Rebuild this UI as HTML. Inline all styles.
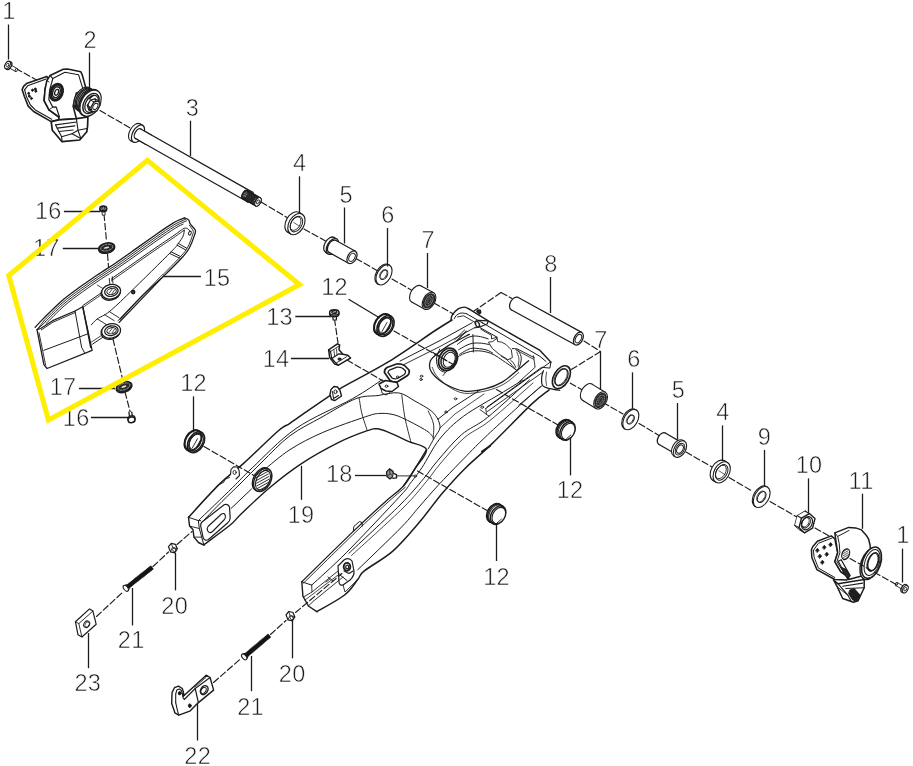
<!DOCTYPE html>
<html><head><meta charset="utf-8"><title>Swingarm parts diagram</title>
<style>
html,body{margin:0;padding:0;background:#fff;}
svg{display:block}
.lb{font-family:"Liberation Sans","Noto Sans CJK SC",sans-serif;font-size:23.5px;text-anchor:middle;fill:#1c1c1c;stroke:#fff;stroke-width:0.55px;paint-order:fill stroke;letter-spacing:0.3px}
</style></head><body>
<svg width="913" height="766" viewBox="0 0 913 766" stroke-linecap="round" stroke-linejoin="round">
<rect width="913" height="766" fill="#fff"/>
<path d="M16.0,68.5 L40.0,82.0" fill="none" stroke="#1c1c1c" stroke-width="1.15" stroke-dasharray="6.5 2.8"/>
<path d="M100.0,110.5 L131.0,128.5" fill="none" stroke="#1c1c1c" stroke-width="1.15" stroke-dasharray="6.5 2.8"/>
<path d="M261.0,202.0 L287.0,217.5" fill="none" stroke="#1c1c1c" stroke-width="1.15" stroke-dasharray="6.5 2.8"/>
<path d="M304.0,229.0 L331.0,244.0" fill="none" stroke="#1c1c1c" stroke-width="1.15" stroke-dasharray="6.5 2.8"/>
<path d="M356.0,258.5 L377.0,270.5" fill="none" stroke="#1c1c1c" stroke-width="1.15" stroke-dasharray="6.5 2.8"/>
<path d="M392.0,279.0 L414.0,291.5" fill="none" stroke="#1c1c1c" stroke-width="1.15" stroke-dasharray="6.5 2.8"/>
<path d="M434.0,303.0 L457.0,316.0" fill="none" stroke="#1c1c1c" stroke-width="1.15" stroke-dasharray="6.5 2.8"/>
<path d="M470.0,325.0 L560.0,377.0" fill="none" stroke="#1c1c1c" stroke-width="1.15" stroke-dasharray="6.5 2.8"/>
<path d="M570.0,383.0 L585.0,391.5" fill="none" stroke="#1c1c1c" stroke-width="1.15" stroke-dasharray="6.5 2.8"/>
<path d="M603.0,402.5 L623.0,414.0" fill="none" stroke="#1c1c1c" stroke-width="1.15" stroke-dasharray="6.5 2.8"/>
<path d="M639.0,423.5 L659.0,435.5" fill="none" stroke="#1c1c1c" stroke-width="1.15" stroke-dasharray="6.5 2.8"/>
<path d="M686.0,452.0 L712.0,467.0" fill="none" stroke="#1c1c1c" stroke-width="1.15" stroke-dasharray="6.5 2.8"/>
<path d="M729.0,477.5 L753.0,491.5" fill="none" stroke="#1c1c1c" stroke-width="1.15" stroke-dasharray="6.5 2.8"/>
<path d="M770.0,501.5 L797.0,517.0" fill="none" stroke="#1c1c1c" stroke-width="1.15" stroke-dasharray="6.5 2.8"/>
<path d="M815.0,528.0 L829.0,536.0" fill="none" stroke="#1c1c1c" stroke-width="1.15" stroke-dasharray="6.5 2.8"/>
<path d="M501.0,292.5 L474.0,311.0" fill="none" stroke="#1c1c1c" stroke-width="1.15" stroke-dasharray="6.5 2.8"/>
<path d="M501.0,292.5 L512.0,298.5" fill="none" stroke="#1c1c1c" stroke-width="1.15" stroke-dasharray="6.5 2.8"/>
<path d="M584.0,341.0 L600.5,351.5" fill="none" stroke="#1c1c1c" stroke-width="1.15" stroke-dasharray="6.5 2.8"/>
<path d="M600.5,351.5 L569.0,371.0" fill="none" stroke="#1c1c1c" stroke-width="1.15" stroke-dasharray="6.5 2.8"/>
<path d="M334.5,319.0 L338.0,343.0" fill="none" stroke="#1c1c1c" stroke-width="1.15" stroke-dasharray="6.5 2.8"/>
<path d="M104.0,214.0 L106.5,241.0" fill="none" stroke="#1c1c1c" stroke-width="1.15" stroke-dasharray="6.5 2.8"/>
<path d="M107.5,254.0 L110.0,286.0" fill="none" stroke="#1c1c1c" stroke-width="1.15" stroke-dasharray="6.5 2.8"/>
<path d="M113.0,339.0 L123.0,381.0" fill="none" stroke="#1c1c1c" stroke-width="1.15" stroke-dasharray="6.5 2.8"/>
<path d="M125.0,392.0 L130.5,413.0" fill="none" stroke="#1c1c1c" stroke-width="1.15" stroke-dasharray="6.5 2.8"/>
<path d="M96.5,616.5 L123.5,591.5" fill="none" stroke="#1c1c1c" stroke-width="1.15" stroke-dasharray="6.5 2.8"/>
<path d="M153.0,566.5 L168.5,552.0" fill="none" stroke="#1c1c1c" stroke-width="1.15" stroke-dasharray="6.5 2.8"/>
<path d="M177.0,544.5 L192.0,531.5" fill="none" stroke="#1c1c1c" stroke-width="1.15" stroke-dasharray="6.5 2.8"/>
<path d="M213.5,682.5 L241.0,658.5" fill="none" stroke="#1c1c1c" stroke-width="1.15" stroke-dasharray="6.5 2.8"/>
<path d="M270.5,634.5 L286.0,620.5" fill="none" stroke="#1c1c1c" stroke-width="1.15" stroke-dasharray="6.5 2.8"/>
<path d="M452.0,320.0 L436.0,330.0 L388.7,361.6 L342.6,387.1 L309.1,409.9 L278.4,430.7 L243.3,463.6 L219.2,484.4 L188.5,517.3 L189.6,526.1 L192.9,529.4 L194.0,537.1 L198.4,542.5 L203.9,545.2 L230.2,525.0 L241.1,514.0 L269.6,487.7 L301.5,463.6 L339.3,442.2 L367.3,430.7 L388.7,432.4 L408.4,441.4 L426.5,449.6 L415.0,468.6 L403.5,486.0 L384.0,502.9 L353.3,531.4 L301.8,581.8 L302.9,596.1 L308.4,606.0 L317.1,611.8 L344.6,595.0 L357.7,579.6 L364.3,570.9 L392.8,551.1 L419.1,522.6 L441.1,491.9 L465.8,467.7 L492.1,443.6 L531.6,404.1 L543.0,386.0 L549.1,389.6 L561.2,390.4 L569.0,385.0 L571.5,377.0 L569.0,369.0 L561.2,365.6 L551.0,362.2 L485.8,319.6 L469.3,308.9 L462.8,307.3 L455.4,311.4 Z" fill="#fff" stroke="#1c1c1c" stroke-width="0" />
<path d="M452.0,320.0 C449.3,321.7 446.6,323.1 436.0,330.0 C425.4,336.9 404.3,352.1 388.7,361.6 C373.1,371.1 352.3,381.5 342.6,387.1 C332.9,392.7 335.9,391.6 330.3,395.4 C324.7,399.2 315.8,405.2 309.1,409.9 C302.4,414.5 295.1,419.8 290.0,423.3 C284.9,426.8 286.2,424.0 278.4,430.7 C270.6,437.4 253.2,454.7 243.3,463.6 C233.4,472.6 228.3,475.4 219.2,484.4 C210.1,493.3 193.6,511.8 188.5,517.3" fill="none" stroke="#1c1c1c" stroke-width="1.5" />
<path d="M382.1,379.7 C377.2,382.9 366.9,390.6 352.5,398.7 C338.1,406.8 312.7,416.9 296.0,428.5 C279.3,440.1 262.7,458.1 252.1,468.0 C241.5,477.9 241.3,478.9 232.4,487.7 C223.5,496.5 204.1,515.1 198.4,520.6" fill="none" stroke="#1c1c1c" stroke-width="1.0" />
<path d="M438.0,419.2 C436.9,417.8 435.2,414.0 431.4,411.0 C427.6,408.0 420.5,404.1 415.0,401.1 C409.5,398.1 404.8,393.8 398.6,392.9 C392.4,392.0 385.1,394.5 378.0,395.5 C370.9,396.5 365.1,395.1 355.8,398.7 C346.5,402.3 333.0,410.8 322.0,417.0 C311.0,423.2 300.0,428.2 290.0,435.7 C280.0,443.2 270.3,453.9 262.0,462.0 C253.7,470.1 246.7,477.4 240.0,484.0 C233.3,490.6 228.0,495.5 222.0,501.5 C216.0,507.5 207.0,516.9 204.0,520.0" fill="none" stroke="#1c1c1c" stroke-width="1.0" />
<path d="M433.1,437.3 C432.0,436.2 431.2,433.7 426.5,430.7 C421.8,427.7 410.9,421.9 405.1,419.2 C399.4,416.5 396.4,415.2 392.0,414.3 C387.6,413.4 383.2,413.1 378.8,413.5 C374.4,413.9 375.0,413.6 365.7,416.7 C356.4,419.8 335.5,426.9 322.9,432.4 C310.3,437.9 299.8,443.3 290.0,449.6 C280.2,455.9 268.3,466.6 264.0,470.0" fill="none" stroke="#1c1c1c" stroke-width="1.0" />
<path d="M251.5,489.0 L231.1,508.4" fill="none" stroke="#1c1c1c" stroke-width="1.0" />
<path d="M403.5,486.0 C405.4,483.1 411.2,474.7 415.0,468.6 C418.8,462.5 427.6,454.1 426.5,449.6 C425.4,445.1 414.7,444.3 408.4,441.4 C402.1,438.5 393.9,434.5 388.7,432.4 C383.5,430.3 380.8,429.1 377.2,428.8 C373.6,428.5 373.6,428.5 367.3,430.7 C361.0,432.9 350.3,436.7 339.3,442.2 C328.3,447.7 313.1,456.0 301.5,463.6 C289.9,471.2 279.7,479.3 269.6,487.7 C259.5,496.1 247.7,507.8 241.1,514.0 C234.5,520.2 236.4,519.9 230.2,525.0 C224.0,530.1 208.3,541.4 203.9,544.7" fill="none" stroke="#1c1c1c" stroke-width="1.4" />
<path d="M359.1,397.8 C359.6,400.5 360.6,408.5 362.0,414.0 C363.4,419.5 366.4,427.9 367.3,430.7" fill="none" stroke="#1c1c1c" stroke-width="0.9" />
<path d="M401.8,395.0 C402.3,398.8 403.5,410.2 405.0,418.0 C406.5,425.8 409.9,438.0 410.9,442.0" fill="none" stroke="#1c1c1c" stroke-width="0.9" />
<path d="M428.2,411.0 C429.1,413.2 432.7,419.3 433.5,424.0 C434.3,428.7 433.2,436.5 433.1,439.0" fill="none" stroke="#1c1c1c" stroke-width="0.9" />
<path d="M438.0,419.2 C438.3,420.7 440.6,425.0 440.0,428.0 C439.4,431.0 436.7,433.8 434.7,437.3 C432.7,440.8 429.3,446.9 428.2,448.8" fill="none" stroke="#1c1c1c" stroke-width="1.0" />
<path d="M188.5,517.3 L189.6,526.1 L192.9,529.4 L194.0,537.1 L198.4,542.5 L203.9,545.2" fill="none" stroke="#1c1c1c" stroke-width="1.4" />
<path d="M188.5,517.3 L198.4,520.6 L200.6,520.6" fill="none" stroke="#1c1c1c" stroke-width="1.0" />
<path d="M198.4,520.6 L199.3,528.5 L201.7,537.1 L203.9,545.2" fill="none" stroke="#1c1c1c" stroke-width="1.0" />
<path d="M189.6,526.1 L199.3,528.5" fill="none" stroke="#1c1c1c" stroke-width="0.9" />
<path d="M194.0,537.1 L201.7,537.1" fill="none" stroke="#1c1c1c" stroke-width="0.9" />
<path d="M202,522 L224.5,504.5 Q228,503.5 229.5,507 L230.2,518 Q230,521 227.5,523 L208.5,539.5 Q205,541.5 203.2,538 L200.8,526.5 Q200.3,523.5 202,522 Z" fill="none" stroke="#1c1c1c" stroke-width="1.2" />
<path d="M208,526.5 L221.5,514 Q224.5,512.5 225.3,515.5 Q226,518 224,520 L212.5,531.5 Q209.5,534 207.8,531 Q206.5,528.5 208,526.5 Z" fill="none" stroke="#1c1c1c" stroke-width="1.1" />
<path d="M230.5,474.5 L231.0,469.5 L233.5,466.8 L237.0,467.0 L239.0,470.0 L239.5,475.5 L236.0,479.0" fill="#fff" stroke="#1c1c1c" stroke-width="1.1" />
<ellipse cx="234.6" cy="472.4" rx="1.6" ry="2.0" transform="rotate(0 234.6 472.4)" fill="none" stroke="#1c1c1c" stroke-width="0.9" />
<path d="M219.0,484.5 L223.5,482.5 L225.5,479.0 L229.5,477.5" fill="none" stroke="#1c1c1c" stroke-width="0.9" />
<ellipse cx="261.5" cy="479.4" rx="8.0" ry="12.4" transform="rotate(28 261.5 479.4)" fill="#fff" stroke="#1c1c1c" stroke-width="1.4" />
<ellipse cx="262.7" cy="480.0" rx="8.0" ry="12.4" transform="rotate(28 262.7 480.0)" fill="#fff" stroke="#1c1c1c" stroke-width="1.5" />
<ellipse cx="263.0" cy="480.2" rx="6.4" ry="10.6" transform="rotate(28 263.0 480.2)" fill="none" stroke="#1c1c1c" stroke-width="1.1" />
<path d="M255.5,475.4 L267.5,468.8" fill="none" stroke="#1c1c1c" stroke-width="0.9" />
<path d="M255.9,478.0 L267.9,471.4" fill="none" stroke="#1c1c1c" stroke-width="0.9" />
<path d="M256.3,480.6 L268.3,474.0" fill="none" stroke="#1c1c1c" stroke-width="0.9" />
<path d="M256.7,483.2 L268.7,476.6" fill="none" stroke="#1c1c1c" stroke-width="0.9" />
<path d="M257.1,485.8 L269.1,479.2" fill="none" stroke="#1c1c1c" stroke-width="0.9" />
<path d="M257.5,488.4 L269.5,481.8" fill="none" stroke="#1c1c1c" stroke-width="0.9" />
<path d="M257.9,491.0 L269.9,484.4" fill="none" stroke="#1c1c1c" stroke-width="0.9" />
<path d="M330.0,394.5 L331.0,389.5 L334.0,386.5 L337.5,387.0 L340.0,390.5 L341.5,396.0 L335.0,400.5 L331.5,399.5 Z" fill="#fff" stroke="#1c1c1c" stroke-width="1.4" />
<path d="M332.5,391.5 L333.5,398.5 L338.5,395.5" fill="none" stroke="#1c1c1c" stroke-width="1.1" />
<ellipse cx="335.5" cy="391.8" rx="1.5" ry="1.9" transform="rotate(0 335.5 391.8)" fill="none" stroke="#1c1c1c" stroke-width="1.0" />
<path d="M426.5,449.6 C424.6,452.8 418.8,462.5 415.0,468.6 C411.2,474.7 408.7,480.3 403.5,486.0 C398.3,491.7 392.4,495.3 384.0,502.9 C375.6,510.5 367.0,518.2 353.3,531.4 C339.6,544.5 310.4,573.4 301.8,581.8" fill="none" stroke="#1c1c1c" stroke-width="1.3" />
<path d="M405.3,487.2 C402.1,490.0 394.2,496.5 385.8,504.1 C377.4,511.7 368.8,519.5 355.1,532.6 C341.4,545.8 312.2,574.6 303.6,583.0" fill="none" stroke="#1c1c1c" stroke-width="0.9" />
<path d="M522.8,380.0 C519.0,382.3 509.9,388.0 500.0,394.0 C490.1,400.0 473.7,408.7 463.6,416.2 C453.5,423.7 446.4,430.6 439.5,439.2 C432.6,447.8 426.8,460.4 421.9,467.7 C417.0,475.0 414.0,478.4 410.4,483.2 C406.8,487.9 410.6,484.7 400.0,496.2 C389.4,507.7 361.5,537.4 346.8,552.2 C332.1,567.0 317.6,579.6 311.7,585.1" fill="none" stroke="#1c1c1c" stroke-width="1.0" />
<path d="M529.4,380.0 C522.4,386.2 499.0,408.2 487.7,417.3 C476.4,426.4 469.8,427.5 461.4,434.8 C453.0,442.1 443.6,453.8 437.3,461.1 C431.0,468.4 429.7,471.5 423.5,478.8 C417.3,486.1 412.4,492.6 400.0,505.0 C387.6,517.4 357.4,545.2 348.9,553.3" fill="none" stroke="#1c1c1c" stroke-width="1.0" />
<path d="M533.0,383.0 C525.8,389.2 501.5,411.3 490.0,420.5 C478.5,429.7 472.3,430.8 464.0,438.0 C455.7,445.2 446.3,456.7 440.0,464.0 C433.7,471.3 432.2,474.7 426.0,482.0 C419.8,489.3 415.4,495.8 403.0,508.0 C390.6,520.2 360.1,547.6 351.5,555.5" fill="none" stroke="#1c1c1c" stroke-width="0.8" />
<path d="M540.4,386.6 C531.6,394.6 500.9,422.4 487.7,434.8 C474.5,447.2 469.7,452.7 461.4,461.1 C453.1,469.6 445.1,477.9 438.0,485.5 C430.9,493.1 425.1,500.1 419.0,507.0 C412.9,513.9 411.8,516.5 401.6,527.0 C391.4,537.5 365.0,562.7 357.7,569.8" fill="none" stroke="#1c1c1c" stroke-width="1.0" />
<path d="M549.1,389.9 C546.2,392.3 541.1,395.2 531.6,404.1 C522.1,413.1 503.1,433.0 492.1,443.6 C481.1,454.2 474.1,459.5 465.8,467.7 C457.5,475.9 450.3,483.9 442.5,493.0 C434.7,502.1 427.4,512.9 419.1,522.6 C410.8,532.3 401.9,543.1 392.8,551.1 C383.7,559.1 370.2,566.1 364.3,570.9 C358.4,575.6 361.0,575.6 357.7,579.6 C354.4,583.6 351.4,589.7 344.6,595.0 C337.8,600.3 321.7,608.7 317.1,611.4" fill="none" stroke="#1c1c1c" stroke-width="1.5" />
<path d="M485.8,408.4 L549.9,362.4" fill="none" stroke="#1c1c1c" stroke-width="1.0" />
<path d="M487.4,411.5 L543.0,372.0" fill="none" stroke="#1c1c1c" stroke-width="0.9" />
<path d="M485.8,408.4 L486.5,414.5 L489.0,416.0" fill="none" stroke="#1c1c1c" stroke-width="0.9" />
<path d="M480.0,409.5 L484.0,412.5 L486.5,414.5" fill="none" stroke="#1c1c1c" stroke-width="0.9" />
<ellipse cx="482.2" cy="407.2" rx="1.4" ry="1.1" transform="rotate(0 482.2 407.2)" fill="none" stroke="#1c1c1c" stroke-width="0.9" />
<path d="M353.3,531.4 L353.8,526.5 L359.5,521.5 L362.0,522.5 L362.3,526.0" fill="none" stroke="#1c1c1c" stroke-width="1.0" />
<path d="M482.0,451.5 L490.0,446.0" fill="none" stroke="#1c1c1c" stroke-width="2.0" />
<path d="M301.8,581.8 L302.9,596.1 L308.4,606.0 L317.1,611.8" fill="none" stroke="#1c1c1c" stroke-width="1.4" />
<path d="M301.8,581.8 L311.7,585.1" fill="none" stroke="#1c1c1c" stroke-width="1.0" />
<path d="M311.7,585.1 L312.0,592.0 L303.5,597.0" fill="none" stroke="#1c1c1c" stroke-width="0.9" />
<path d="M312.0,592.0 L338.0,571.0" fill="none" stroke="#1c1c1c" stroke-width="0.9" />
<path d="M308.4,606.0 L313.0,601.5 L343.0,577.0" fill="none" stroke="#1c1c1c" stroke-width="0.9" />
<path d="M305.0,600.0 L311.0,595.5 L340.0,573.5" fill="none" stroke="#1c1c1c" stroke-width="0.8" />
<path d="M338,566 L344,560 Q349,557 352,561 L354,571 Q354.5,576 350,580 L343,585 Q339.5,586 339,582 Z" fill="none" stroke="#1c1c1c" stroke-width="1.2" />
<ellipse cx="347.0" cy="566.8" rx="3.3" ry="3.9" transform="rotate(0 347.0 566.8)" fill="none" stroke="#1c1c1c" stroke-width="1.9" />
<ellipse cx="347.2" cy="567.0" rx="1.5" ry="1.9" transform="rotate(0 347.2 567.0)" fill="none" stroke="#1c1c1c" stroke-width="1.3" />
<path d="M344.0,571.0 L349.0,573.5 L353.0,571.0" fill="none" stroke="#1c1c1c" stroke-width="1.2" />
<path d="M340.0,575.0 L347.0,580.5" fill="none" stroke="#1c1c1c" stroke-width="1.0" />
<path d="M343.0,585.0 L345.0,592.0 L357.7,579.6" fill="none" stroke="#1c1c1c" stroke-width="0.9" />
<path d="M326.0,582.0 L330.0,579.0" fill="none" stroke="#1c1c1c" stroke-width="0.9" />
<path d="M328.0,577.0 L333.0,581.0" fill="none" stroke="#1c1c1c" stroke-width="0.9" />
<path d="M451.0,320.2 C451.1,319.7 451.1,318.0 451.5,316.9 C451.9,315.8 452.0,315.0 453.2,313.6 C454.3,312.3 456.8,309.8 458.6,308.7 C460.5,307.6 462.5,307.1 464.1,307.1 C465.8,307.1 467.8,308.4 468.5,308.7" fill="none" stroke="#1c1c1c" stroke-width="1.4" />
<path d="M468.5,308.7 L488.2,320.8 L540.0,350.4 L551.0,362.2" fill="none" stroke="#1c1c1c" stroke-width="1.4" />
<path d="M454.3,318.6 C454.6,318.0 455.4,316.2 456.4,315.3 C457.5,314.4 459.2,313.4 460.8,313.1 C462.5,312.8 465.4,313.5 466.3,313.6" fill="none" stroke="#1c1c1c" stroke-width="1.0" />
<path d="M466.3,313.6 L483.9,323.7" fill="none" stroke="#1c1c1c" stroke-width="1.0" />
<path d="M457.5,316.9 L463.6,315.8 L476.2,323.0" fill="none" stroke="#1c1c1c" stroke-width="0.9" />
<ellipse cx="477.3" cy="324.0" rx="1.8" ry="3.2" transform="rotate(-25 477.3 324.0)" fill="none" stroke="#1c1c1c" stroke-width="1.4" />
<path d="M478.4,320.4 L488.2,320.8 L487.4,323.7 L480.0,327.0" fill="none" stroke="#1c1c1c" stroke-width="1.2" />
<path d="M476.2,321.3 L478.4,320.4" fill="none" stroke="#1c1c1c" stroke-width="1.0" />
<path d="M474.9,327.9 L480.0,327.0" fill="none" stroke="#1c1c1c" stroke-width="1.0" />
<path d="M476.8,311.5 l1.2,-1.6 l2.2,0.4 l0.6,2.2 l-1.2,1.4 Z" fill="#333" stroke="#1c1c1c" stroke-width="1.4" />
<path d="M481.7,322.4 L540.0,356.4 L546.0,361.5" fill="none" stroke="#1c1c1c" stroke-width="1.0" />
<path d="M480.6,327.9 L497.0,337.2 L497.0,341.1" fill="none" stroke="#1c1c1c" stroke-width="1.0" />
<path d="M480.8,329.2 L491.5,335.4 L491.5,338.9 L497.0,337.2" fill="none" stroke="#1c1c1c" stroke-width="0.9" />
<path d="M516.8,348.7 L534.3,357.7" fill="none" stroke="#1c1c1c" stroke-width="1.0" />
<path d="M515.7,349.8 L533.2,359.1" fill="none" stroke="#1c1c1c" stroke-width="0.8" />
<path d="M472.9,334.5 L473.4,352.0" fill="none" stroke="#1c1c1c" stroke-width="1.0" />
<path d="M457.5,344.3 C458.8,343.4 462.7,340.2 465.2,338.9 C467.8,337.5 470.3,336.5 472.9,336.1 C475.5,335.8 478.0,336.2 480.6,336.7 C483.1,337.1 487.0,338.5 488.2,338.9" fill="none" stroke="#1c1c1c" stroke-width="1.0" />
<path d="M458.6,349.8 C459.8,349.1 463.4,346.8 465.8,345.7 C468.1,344.6 470.2,343.6 472.9,343.2 C475.5,342.8 478.9,343.0 481.7,343.2 C484.4,343.5 488.1,344.3 489.3,344.6" fill="none" stroke="#1c1c1c" stroke-width="1.0" />
<path d="M459.7,354.2 C460.8,353.6 464.1,351.4 466.3,350.4 C468.5,349.4 469.6,348.3 472.9,348.2 C476.2,348.1 482.8,349.0 486.1,349.8 C489.3,350.6 491.5,352.6 492.6,353.1" fill="none" stroke="#1c1c1c" stroke-width="1.0" />
<path d="M512.4,348.7 C513.1,348.8 515.3,348.0 516.8,349.3 C518.2,350.6 520.6,353.8 521.1,356.4 C521.7,359.1 520.8,362.8 520.0,365.2 C519.3,367.6 517.3,369.7 516.8,370.7" fill="none" stroke="#1c1c1c" stroke-width="1.0" />
<path d="M510.2,359.7 C510.7,360.2 512.6,361.7 513.5,363.0 C514.4,364.3 515.3,366.6 515.7,367.4" fill="none" stroke="#1c1c1c" stroke-width="0.9" />
<path d="M501.4,356.4 C502.5,357.1 505.6,358.6 508.0,360.8 C510.4,363.0 514.4,368.1 515.7,369.6" fill="none" stroke="#1c1c1c" stroke-width="0.9" />
<path d="M516.8,352.0 C517.1,353.1 518.7,356.2 518.9,358.6 C519.2,361.0 518.2,365.0 518.1,366.3" fill="none" stroke="#1c1c1c" stroke-width="0.8" />
<path d="M488.8,342.1 L492.6,341.6 L497.0,338.3 L497.6,341.6 L501.4,342.1 L505.8,344.3 L511.3,349.8 L512.4,357.5 L508.0,359.7 L499.2,354.2 L492.6,348.7 Z" fill="#fff" stroke="#1c1c1c" stroke-width="0.9" />
<path d="M472.3,322.7 L440.0,340.5 L400.0,361.1" fill="none" stroke="#1c1c1c" stroke-width="1.0" />
<path d="M475.6,327.1 L440.0,346.5 L404.0,364.5" fill="none" stroke="#1c1c1c" stroke-width="0.9" />
<path d="M466.3,331.2 L456.4,341.1" fill="none" stroke="#1c1c1c" stroke-width="1.2" />
<path d="M464.7,329.9 L454.8,339.7" fill="none" stroke="#1c1c1c" stroke-width="0.9" />
<path d="M469.3,334.4 C465.8,336.3 453.7,342.4 448.0,345.9 C442.2,349.5 437.8,353.0 434.8,355.8 C431.8,358.5 430.4,359.6 429.9,362.4 C429.3,365.1 429.0,368.7 431.5,372.2 C434.0,375.8 439.2,380.6 444.7,383.8 C450.2,386.9 457.6,390.3 464.4,391.2 C471.3,392.0 479.5,390.2 485.8,388.7 C492.1,387.2 497.0,385.1 502.2,382.1 C507.4,379.1 512.7,374.2 517.0,370.6 C521.4,367.0 526.6,362.4 528.6,360.7" fill="none" stroke="#1c1c1c" stroke-width="1.3" />
<path d="M517.0,370.6 C515.1,369.2 509.9,365.2 505.5,362.4 C501.1,359.5 495.9,355.2 490.7,353.3 C485.5,351.4 479.5,350.4 474.3,350.9 C469.1,351.3 463.0,353.6 459.5,355.8 C455.9,358.0 455.6,360.7 452.9,364.0 C450.2,367.3 444.7,373.6 443.0,375.5" fill="none" stroke="#1c1c1c" stroke-width="1.0" />
<path d="M432.3,367.3 C433.0,368.7 433.8,372.4 436.4,375.5 C439.1,378.7 443.3,383.3 448.0,386.2 C452.6,389.2 458.0,392.5 464.4,393.3 C470.8,394.0 480.0,392.2 486.6,390.7 C493.2,389.1 498.5,387.1 503.9,384.1 C509.2,381.1 516.2,374.5 518.7,372.6" fill="none" stroke="#1c1c1c" stroke-width="0.8" />
<ellipse cx="448.0" cy="359.4" rx="9.0" ry="11.6" transform="rotate(25 448.0 359.4)" fill="#fff" stroke="#1c1c1c" stroke-width="1.8" />
<ellipse cx="448.6" cy="359.6" rx="7.2" ry="9.6" transform="rotate(25 448.6 359.6)" fill="none" stroke="#1c1c1c" stroke-width="1.5" />
<ellipse cx="449.2" cy="359.8" rx="5.6" ry="7.8" transform="rotate(25 449.2 359.8)" fill="none" stroke="#1c1c1c" stroke-width="1.0" />
<path d="M439.7,349.2 C439.2,350.9 436.6,355.8 436.4,359.1 C436.3,362.4 437.5,366.8 438.9,368.9 C440.3,371.1 443.7,371.7 444.7,372.2" fill="none" stroke="#1c1c1c" stroke-width="1.0" />
<path d="M533.5,355.8 L535.1,367.3 L518.7,382.1" fill="none" stroke="#1c1c1c" stroke-width="0.9" />
<path d="M550.8,362.4 L549.9,368.1 L541.7,367.3 L487.4,406.8" fill="none" stroke="#1c1c1c" stroke-width="1.0" />
<path d="M543.4,370.6 C543.1,371.7 541.8,374.7 541.7,377.2 C541.6,379.6 541.2,383.5 542.5,385.4 C543.9,387.3 547.1,387.9 549.9,388.7 C552.8,389.5 558.2,390.1 559.8,390.3" fill="none" stroke="#1c1c1c" stroke-width="1.2" />
<path d="M546.6,372.2 C546.5,373.3 545.8,376.6 545.8,378.8 C545.8,381.0 546.5,384.3 546.6,385.4" fill="none" stroke="#1c1c1c" stroke-width="0.8" />
<path d="M542.5,385.4 L518.7,405.1" fill="none" stroke="#1c1c1c" stroke-width="0.9" />
<ellipse cx="561.4" cy="377.2" rx="7.6" ry="12.4" transform="rotate(30.2 561.4 377.2)" fill="#fff" stroke="#1c1c1c" stroke-width="1.6" />
<ellipse cx="561.6" cy="377.3" rx="5.4" ry="9.2" transform="rotate(30.2 561.6 377.3)" fill="none" stroke="#1c1c1c" stroke-width="1.2" />
<ellipse cx="560.8" cy="376.8" rx="5.4" ry="9.2" transform="rotate(30.2 560.8 376.8)" fill="none" stroke="#1c1c1c" stroke-width="0.7" />
<path d="M384.5,372.5 Q384,369.5 387,367.5 L396.5,364 Q401,363.5 404.5,365.5 L409,370 Q410,373 407.5,375.5 L398,381.5 Q393.5,383 390,380.5 Z" fill="#fff" stroke="#1c1c1c" stroke-width="1.7" />
<path d="M388,372.5 Q388,371 390,369.8 L397,367.2 Q400.5,367 403,368.5 L405.5,371 Q406,373 404.3,374.5 L397.5,378.5 Q394.5,379.5 392,378 Z" fill="none" stroke="#1c1c1c" stroke-width="1.3" />
<ellipse cx="397.5" cy="377.0" rx="1.2" ry="1.0" transform="rotate(0 397.5 377.0)" fill="none" stroke="#1c1c1c" stroke-width="0.9" />
<path d="M379,384 L385.5,380.5 L397,382.5 L398.5,386.5 L392,391.5 L386,391 L381,388.5 Z" fill="#fff" stroke="#1c1c1c" stroke-width="1.5" />
<ellipse cx="386.5" cy="386.2" rx="1.4" ry="1.1" transform="rotate(0 386.5 386.2)" fill="none" stroke="#1c1c1c" stroke-width="1.0" />
<path d="M381.0,388.5 L382.0,393.0 L386.0,395.0 L390.0,392.5" fill="none" stroke="#1c1c1c" stroke-width="0.9" />
<ellipse cx="421.5" cy="376.2" rx="1.3" ry="1.0" transform="rotate(0 421.5 376.2)" fill="none" stroke="#1c1c1c" stroke-width="0.9" />
<ellipse cx="446.0" cy="412.0" rx="1.3" ry="1.0" transform="rotate(0 446.0 412.0)" fill="none" stroke="#1c1c1c" stroke-width="0.9" />
<ellipse cx="421.0" cy="379.5" rx="1.3" ry="1.0" transform="rotate(0 421.0 379.5)" fill="none" stroke="#1c1c1c" stroke-width="0.9" />
<ellipse cx="455.5" cy="398.8" rx="1.3" ry="1.0" transform="rotate(0 455.5 398.8)" fill="none" stroke="#1c1c1c" stroke-width="0.9" />
<path d="M438.0,419.2 L452.0,408.0 L480.0,390.0" fill="none" stroke="#1c1c1c" stroke-width="1.0" />
<path d="M440.0,428.0 L455.0,414.0 L484.0,394.0" fill="none" stroke="#1c1c1c" stroke-width="0.8" />
<ellipse cx="10.7" cy="66.8" rx="1.0" ry="1.7" transform="rotate(30.2 10.7 66.8)" fill="#fff" stroke="#1c1c1c" stroke-width="0.9" />
<path d="M9.8,68.2 L15.4,71.5 L17.1,68.6 L11.5,65.3Z" fill="#fff" stroke="none"/>
<path d="M9.8,68.2 L15.4,71.5" fill="none" stroke="#1c1c1c" stroke-width="0.9" />
<path d="M11.5,65.3 L17.1,68.6" fill="none" stroke="#1c1c1c" stroke-width="0.9" />
<ellipse cx="16.3" cy="70.0" rx="1.0" ry="1.7" transform="rotate(30.2 16.3 70.0)" fill="#fff" stroke="#1c1c1c" stroke-width="0.9" />
<ellipse cx="8.5" cy="65.5" rx="2.8" ry="4.4" transform="rotate(30.2 8.5 65.5)" fill="#fff" stroke="#1c1c1c" stroke-width="1.3" />
<ellipse cx="7.5" cy="64.9" rx="2.4" ry="4.0" transform="rotate(30.2 7.5 64.9)" fill="#fff" stroke="#1c1c1c" stroke-width="1.0" />
<ellipse cx="7.5" cy="64.9" rx="1.2" ry="2.0" transform="rotate(30.2 7.5 64.9)" fill="none" stroke="#1c1c1c" stroke-width="0.8" />
<ellipse cx="902.1" cy="587.3" rx="1.0" ry="1.7" transform="rotate(30.2 902.1 587.3)" fill="#fff" stroke="#1c1c1c" stroke-width="0.9" />
<path d="M901.3,588.8 L895.7,585.5 L897.4,582.6 L903.0,585.9Z" fill="#fff" stroke="none"/>
<path d="M901.3,588.8 L895.7,585.5" fill="none" stroke="#1c1c1c" stroke-width="0.9" />
<path d="M903.0,585.9 L897.4,582.6" fill="none" stroke="#1c1c1c" stroke-width="0.9" />
<ellipse cx="896.5" cy="584.1" rx="1.0" ry="1.7" transform="rotate(30.2 896.5 584.1)" fill="#fff" stroke="#1c1c1c" stroke-width="0.9" />
<ellipse cx="904.3" cy="588.6" rx="2.8" ry="4.4" transform="rotate(30.2 904.3 588.6)" fill="#fff" stroke="#1c1c1c" stroke-width="1.3" />
<ellipse cx="905.3" cy="589.2" rx="2.4" ry="4.0" transform="rotate(30.2 905.3 589.2)" fill="#fff" stroke="#1c1c1c" stroke-width="1.0" />
<ellipse cx="905.3" cy="589.2" rx="1.2" ry="2.0" transform="rotate(30.2 905.3 589.2)" fill="none" stroke="#1c1c1c" stroke-width="0.8" />
<ellipse cx="139.0" cy="134.3" rx="3.0" ry="5.5" transform="rotate(29.6 139.0 134.3)" fill="#fff" stroke="#1c1c1c" stroke-width="1.25" />
<path d="M136.3,139.0 L247.3,201.8 L252.7,192.4 L141.7,129.5Z" fill="#fff" stroke="none"/>
<path d="M136.3,139.0 L247.3,201.8" fill="none" stroke="#1c1c1c" stroke-width="1.25" />
<path d="M141.7,129.5 L252.7,192.4" fill="none" stroke="#1c1c1c" stroke-width="1.25" />
<ellipse cx="250.0" cy="197.1" rx="3.0" ry="5.5" transform="rotate(29.6 250.0 197.1)" fill="#fff" stroke="#1c1c1c" stroke-width="1.25" />
<ellipse cx="245.0" cy="194.5" rx="2.5" ry="4.6" transform="rotate(29.6 245.0 194.5)" fill="#fff" stroke="#1c1c1c" stroke-width="1.25" />
<path d="M242.7,198.5 L255.7,205.9 L260.3,197.9 L247.3,190.5Z" fill="#fff" stroke="none"/>
<path d="M242.7,198.5 L255.7,205.9" fill="none" stroke="#1c1c1c" stroke-width="1.25" />
<path d="M247.3,190.5 L260.3,197.9" fill="none" stroke="#1c1c1c" stroke-width="1.25" />
<ellipse cx="258.0" cy="201.9" rx="2.5" ry="4.6" transform="rotate(29.6 258.0 201.9)" fill="#fff" stroke="#1c1c1c" stroke-width="1.25" />
<ellipse cx="245.0" cy="194.5" rx="2.5" ry="4.6" transform="rotate(29.6 245.0 194.5)" fill="none" stroke="#1c1c1c" stroke-width="0.9" />
<ellipse cx="245.9" cy="195.0" rx="2.5" ry="4.6" transform="rotate(29.6 245.9 195.0)" fill="none" stroke="#1c1c1c" stroke-width="0.9" />
<ellipse cx="246.8" cy="195.5" rx="2.5" ry="4.6" transform="rotate(29.6 246.8 195.5)" fill="none" stroke="#1c1c1c" stroke-width="0.9" />
<ellipse cx="247.7" cy="196.1" rx="2.5" ry="4.6" transform="rotate(29.6 247.7 196.1)" fill="none" stroke="#1c1c1c" stroke-width="0.9" />
<ellipse cx="248.7" cy="196.6" rx="2.5" ry="4.6" transform="rotate(29.6 248.7 196.6)" fill="none" stroke="#1c1c1c" stroke-width="0.9" />
<ellipse cx="249.6" cy="197.1" rx="2.5" ry="4.6" transform="rotate(29.6 249.6 197.1)" fill="none" stroke="#1c1c1c" stroke-width="0.9" />
<ellipse cx="250.5" cy="197.6" rx="2.5" ry="4.6" transform="rotate(29.6 250.5 197.6)" fill="none" stroke="#1c1c1c" stroke-width="0.9" />
<ellipse cx="251.4" cy="198.1" rx="2.5" ry="4.6" transform="rotate(29.6 251.4 198.1)" fill="none" stroke="#1c1c1c" stroke-width="0.9" />
<ellipse cx="252.3" cy="198.6" rx="2.5" ry="4.6" transform="rotate(29.6 252.3 198.6)" fill="none" stroke="#1c1c1c" stroke-width="0.9" />
<ellipse cx="253.2" cy="199.2" rx="2.5" ry="4.6" transform="rotate(29.6 253.2 199.2)" fill="none" stroke="#1c1c1c" stroke-width="0.9" />
<ellipse cx="254.1" cy="199.7" rx="2.5" ry="4.6" transform="rotate(29.6 254.1 199.7)" fill="none" stroke="#1c1c1c" stroke-width="0.9" />
<ellipse cx="255.0" cy="200.2" rx="2.5" ry="4.6" transform="rotate(29.6 255.0 200.2)" fill="none" stroke="#1c1c1c" stroke-width="0.9" />
<ellipse cx="256.0" cy="200.7" rx="2.5" ry="4.6" transform="rotate(29.6 256.0 200.7)" fill="none" stroke="#1c1c1c" stroke-width="0.9" />
<ellipse cx="258.0" cy="201.9" rx="2.5" ry="4.6" transform="rotate(29.6 258.0 201.9)" fill="#fff" stroke="#1c1c1c" stroke-width="1.0" />
<ellipse cx="258.0" cy="201.9" rx="1.2" ry="2.3" transform="rotate(29.6 258.0 201.9)" fill="none" stroke="#1c1c1c" stroke-width="0.8" />
<ellipse cx="135.1" cy="132.1" rx="5.3" ry="9.6" transform="rotate(29.6 135.1 132.1)" fill="#fff" stroke="#1c1c1c" stroke-width="1.1" />
<path d="M130.4,140.4 L133.2,142.0 L142.7,125.3 L139.8,123.7Z" fill="#fff" stroke="none"/>
<path d="M130.4,140.4 L133.2,142.0" fill="none" stroke="#1c1c1c" stroke-width="1.1" />
<path d="M139.8,123.7 L142.7,125.3" fill="none" stroke="#1c1c1c" stroke-width="1.1" />
<ellipse cx="138.0" cy="133.7" rx="5.3" ry="9.6" transform="rotate(29.6 138.0 133.7)" fill="#fff" stroke="#1c1c1c" stroke-width="1.25" />
<ellipse cx="138.0" cy="133.7" rx="3.0" ry="5.5" transform="rotate(29.6 138.0 133.7)" fill="#fff" stroke="#1c1c1c" stroke-width="1.25" />
<path d="M135.3,138.4 L145.9,144.5 L151.3,135.0 L140.7,129.0Z" fill="#fff" stroke="none"/>
<path d="M135.3,138.4 L145.9,144.5" fill="none" stroke="#1c1c1c" stroke-width="1.25" />
<path d="M140.7,129.0 L151.3,135.0" fill="none" stroke="#1c1c1c" stroke-width="1.25" />
<ellipse cx="293.5" cy="222.4" rx="7.5" ry="11.4" transform="rotate(30.2 293.5 222.4)" fill="#fff" stroke="#1c1c1c" stroke-width="1.1" />
<path d="M287.8,232.2 L290.7,234.0 L302.2,214.3 L299.2,212.5Z" fill="#fff" stroke="none"/>
<path d="M287.8,232.2 L290.7,234.0" fill="none" stroke="#1c1c1c" stroke-width="1.1" />
<path d="M299.2,212.5 L302.2,214.3" fill="none" stroke="#1c1c1c" stroke-width="1.1" />
<ellipse cx="296.4" cy="224.1" rx="7.5" ry="11.4" transform="rotate(30.2 296.4 224.1)" fill="#fff" stroke="#1c1c1c" stroke-width="1.1" />
<ellipse cx="296.4" cy="224.1" rx="5.4" ry="8.4" transform="rotate(30.2 296.4 224.1)" fill="none" stroke="#1c1c1c" stroke-width="1.0" />
<ellipse cx="295.6" cy="223.6" rx="4.6" ry="7.4" transform="rotate(30.2 295.6 223.6)" fill="none" stroke="#1c1c1c" stroke-width="0.8" />
<path d="M293.7,222.5 L298.4,225.5" fill="none" stroke="#1c1c1c" stroke-width="0.7" />
<ellipse cx="718.8" cy="470.7" rx="7.5" ry="11.4" transform="rotate(30.2 718.8 470.7)" fill="#fff" stroke="#1c1c1c" stroke-width="1.1" />
<path d="M713.1,480.5 L716.0,482.3 L727.5,462.6 L724.5,460.8Z" fill="#fff" stroke="none"/>
<path d="M713.1,480.5 L716.0,482.3" fill="none" stroke="#1c1c1c" stroke-width="1.1" />
<path d="M724.5,460.8 L727.5,462.6" fill="none" stroke="#1c1c1c" stroke-width="1.1" />
<ellipse cx="721.7" cy="472.4" rx="7.5" ry="11.4" transform="rotate(30.2 721.7 472.4)" fill="#fff" stroke="#1c1c1c" stroke-width="1.1" />
<ellipse cx="721.7" cy="472.4" rx="5.4" ry="8.4" transform="rotate(30.2 721.7 472.4)" fill="none" stroke="#1c1c1c" stroke-width="1.0" />
<ellipse cx="720.9" cy="471.9" rx="4.6" ry="7.4" transform="rotate(30.2 720.9 471.9)" fill="none" stroke="#1c1c1c" stroke-width="0.8" />
<path d="M719.0,470.8 L723.7,473.8" fill="none" stroke="#1c1c1c" stroke-width="0.7" />
<ellipse cx="329.9" cy="244.9" rx="5.2" ry="8.6" transform="rotate(30.2 329.9 244.9)" fill="#fff" stroke="#1c1c1c" stroke-width="1.25" />
<path d="M325.6,252.4 L328.2,253.9 L336.8,239.0 L334.2,237.5Z" fill="#fff" stroke="none"/>
<path d="M325.6,252.4 L328.2,253.9" fill="none" stroke="#1c1c1c" stroke-width="1.25" />
<path d="M334.2,237.5 L336.8,239.0" fill="none" stroke="#1c1c1c" stroke-width="1.25" />
<ellipse cx="332.5" cy="246.5" rx="5.2" ry="8.6" transform="rotate(30.2 332.5 246.5)" fill="#fff" stroke="#1c1c1c" stroke-width="1.25" />
<ellipse cx="332.5" cy="246.5" rx="4.3" ry="6.9" transform="rotate(30.2 332.5 246.5)" fill="#fff" stroke="#1c1c1c" stroke-width="1.25" />
<path d="M329.0,252.4 L348.5,263.3 L355.5,251.3 L336.0,240.5Z" fill="#fff" stroke="none"/>
<path d="M329.0,252.4 L348.5,263.3" fill="none" stroke="#1c1c1c" stroke-width="1.25" />
<path d="M336.0,240.5 L355.5,251.3" fill="none" stroke="#1c1c1c" stroke-width="1.25" />
<ellipse cx="352.0" cy="257.3" rx="4.3" ry="6.9" transform="rotate(30.2 352.0 257.3)" fill="#fff" stroke="#1c1c1c" stroke-width="1.25" />
<ellipse cx="352.0" cy="257.3" rx="2.7" ry="4.4" transform="rotate(30.2 352.0 257.3)" fill="none" stroke="#1c1c1c" stroke-width="0.9" />
<ellipse cx="662.0" cy="438.6" rx="4.0" ry="6.5" transform="rotate(30.2 662.0 438.6)" fill="#fff" stroke="#1c1c1c" stroke-width="1.25" />
<path d="M658.7,444.2 L675.2,453.8 L681.8,442.6 L665.3,433.0Z" fill="#fff" stroke="none"/>
<path d="M658.7,444.2 L675.2,453.8" fill="none" stroke="#1c1c1c" stroke-width="1.25" />
<path d="M665.3,433.0 L681.8,442.6" fill="none" stroke="#1c1c1c" stroke-width="1.25" />
<ellipse cx="678.1" cy="448.0" rx="5.6" ry="9.0" transform="rotate(30.2 678.1 448.0)" fill="#fff" stroke="#1c1c1c" stroke-width="1.1" />
<path d="M673.6,455.8 L675.5,456.9 L684.5,441.3 L682.6,440.2Z" fill="#fff" stroke="none"/>
<path d="M673.6,455.8 L675.5,456.9" fill="none" stroke="#1c1c1c" stroke-width="1.1" />
<path d="M682.6,440.2 L684.5,441.3" fill="none" stroke="#1c1c1c" stroke-width="1.1" />
<ellipse cx="680.0" cy="449.1" rx="5.6" ry="9.0" transform="rotate(30.2 680.0 449.1)" fill="#fff" stroke="#1c1c1c" stroke-width="1.1" />
<ellipse cx="680.0" cy="449.1" rx="4.1" ry="6.4" transform="rotate(30.2 680.0 449.1)" fill="none" stroke="#1c1c1c" stroke-width="0.9" />
<ellipse cx="680.0" cy="449.1" rx="2.8" ry="4.5" transform="rotate(30.2 680.0 449.1)" fill="none" stroke="#1c1c1c" stroke-width="1.0" />
<ellipse cx="383.0" cy="274.2" rx="6.8" ry="11.0" transform="rotate(30.2 383.0 274.2)" fill="#fff" stroke="#1c1c1c" stroke-width="1.1" />
<path d="M377.4,283.7 L378.5,284.3 L389.5,265.3 L388.5,264.7Z" fill="#fff" stroke="none"/>
<path d="M377.4,283.7 L378.5,284.3" fill="none" stroke="#1c1c1c" stroke-width="1.1" />
<path d="M388.5,264.7 L389.5,265.3" fill="none" stroke="#1c1c1c" stroke-width="1.1" />
<ellipse cx="384.0" cy="274.8" rx="6.8" ry="11.0" transform="rotate(30.2 384.0 274.8)" fill="#fff" stroke="#1c1c1c" stroke-width="1.1" />
<ellipse cx="384.0" cy="274.8" rx="3.2" ry="5.2" transform="rotate(30.2 384.0 274.8)" fill="none" stroke="#1c1c1c" stroke-width="1.0" />
<ellipse cx="383.2" cy="274.3" rx="3.2" ry="5.2" transform="rotate(30.2 383.2 274.3)" fill="none" stroke="#1c1c1c" stroke-width="0.6" />
<ellipse cx="629.8" cy="419.0" rx="6.8" ry="11.0" transform="rotate(30.2 629.8 419.0)" fill="#fff" stroke="#1c1c1c" stroke-width="1.1" />
<path d="M624.2,428.5 L625.3,429.1 L636.3,410.1 L635.3,409.5Z" fill="#fff" stroke="none"/>
<path d="M624.2,428.5 L625.3,429.1" fill="none" stroke="#1c1c1c" stroke-width="1.1" />
<path d="M635.3,409.5 L636.3,410.1" fill="none" stroke="#1c1c1c" stroke-width="1.1" />
<ellipse cx="630.8" cy="419.6" rx="6.8" ry="11.0" transform="rotate(30.2 630.8 419.6)" fill="#fff" stroke="#1c1c1c" stroke-width="1.1" />
<ellipse cx="630.8" cy="419.6" rx="3.0" ry="4.9" transform="rotate(30.2 630.8 419.6)" fill="none" stroke="#1c1c1c" stroke-width="1.0" />
<ellipse cx="630.0" cy="419.1" rx="3.0" ry="4.9" transform="rotate(30.2 630.0 419.1)" fill="none" stroke="#1c1c1c" stroke-width="0.6" />
<ellipse cx="760.7" cy="496.4" rx="7.1" ry="11.4" transform="rotate(30.2 760.7 496.4)" fill="#fff" stroke="#1c1c1c" stroke-width="1.1" />
<path d="M754.9,506.2 L756.0,506.9 L767.4,487.1 L766.4,486.5Z" fill="#fff" stroke="none"/>
<path d="M754.9,506.2 L756.0,506.9" fill="none" stroke="#1c1c1c" stroke-width="1.1" />
<path d="M766.4,486.5 L767.4,487.1" fill="none" stroke="#1c1c1c" stroke-width="1.1" />
<ellipse cx="761.7" cy="497.0" rx="7.1" ry="11.4" transform="rotate(30.2 761.7 497.0)" fill="#fff" stroke="#1c1c1c" stroke-width="1.1" />
<ellipse cx="761.7" cy="497.0" rx="3.7" ry="6.0" transform="rotate(30.2 761.7 497.0)" fill="none" stroke="#1c1c1c" stroke-width="1.0" />
<ellipse cx="760.9" cy="496.5" rx="3.7" ry="6.0" transform="rotate(30.2 760.9 496.5)" fill="none" stroke="#1c1c1c" stroke-width="0.6" />
<ellipse cx="416.4" cy="294.0" rx="5.8" ry="9.4" transform="rotate(30.2 416.4 294.0)" fill="#fff" stroke="#1c1c1c" stroke-width="1.1" />
<path d="M411.7,302.1 L424.3,309.0 L433.7,292.8 L421.1,285.9Z" fill="#fff" stroke="none"/>
<path d="M411.7,302.1 L424.3,309.0" fill="none" stroke="#1c1c1c" stroke-width="1.1" />
<path d="M421.1,285.9 L433.7,292.8" fill="none" stroke="#1c1c1c" stroke-width="1.1" />
<ellipse cx="429.0" cy="300.9" rx="5.8" ry="9.4" transform="rotate(30.2 429.0 300.9)" fill="#fff" stroke="#1c1c1c" stroke-width="1.1" />
<ellipse cx="429.0" cy="300.9" rx="4.8" ry="7.8" transform="rotate(30.2 429.0 300.9)" fill="#2e2e2e" stroke="#1c1c1c" stroke-width="1.0" />
<ellipse cx="429.0" cy="300.9" rx="3.2" ry="5.8" transform="rotate(30.2 429.0 300.9)" fill="none" stroke="#8a8a8a" stroke-width="0.9" stroke-dasharray="0.8 1.2"/>
<ellipse cx="429.0" cy="300.9" rx="1.6" ry="3.2" transform="rotate(30.2 429.0 300.9)" fill="none" stroke="#777" stroke-width="0.8" stroke-dasharray="0.8 1.2"/>
<ellipse cx="587.2" cy="392.2" rx="5.8" ry="9.4" transform="rotate(30.2 587.2 392.2)" fill="#fff" stroke="#1c1c1c" stroke-width="1.1" />
<path d="M582.5,400.3 L595.9,408.5 L605.3,392.3 L591.9,384.1Z" fill="#fff" stroke="none"/>
<path d="M582.5,400.3 L595.9,408.5" fill="none" stroke="#1c1c1c" stroke-width="1.1" />
<path d="M591.9,384.1 L605.3,392.3" fill="none" stroke="#1c1c1c" stroke-width="1.1" />
<ellipse cx="600.6" cy="400.4" rx="5.8" ry="9.4" transform="rotate(30.2 600.6 400.4)" fill="#fff" stroke="#1c1c1c" stroke-width="1.1" />
<ellipse cx="600.6" cy="400.4" rx="4.8" ry="7.8" transform="rotate(30.2 600.6 400.4)" fill="#2e2e2e" stroke="#1c1c1c" stroke-width="1.0" />
<ellipse cx="600.6" cy="400.4" rx="3.2" ry="5.8" transform="rotate(30.2 600.6 400.4)" fill="none" stroke="#8a8a8a" stroke-width="0.9" stroke-dasharray="0.8 1.2"/>
<ellipse cx="600.6" cy="400.4" rx="1.6" ry="3.2" transform="rotate(30.2 600.6 400.4)" fill="none" stroke="#777" stroke-width="0.8" stroke-dasharray="0.8 1.2"/>
<ellipse cx="514.5" cy="303.5" rx="4.2" ry="7.0" transform="rotate(28.4 514.5 303.5)" fill="#fff" stroke="#1c1c1c" stroke-width="1.25" />
<path d="M511.2,309.7 L575.1,344.8 L581.7,332.4 L517.8,297.3Z" fill="#fff" stroke="none"/>
<path d="M511.2,309.7 L575.1,344.8" fill="none" stroke="#1c1c1c" stroke-width="1.25" />
<path d="M517.8,297.3 L581.7,332.4" fill="none" stroke="#1c1c1c" stroke-width="1.25" />
<ellipse cx="578.4" cy="338.6" rx="4.2" ry="7.0" transform="rotate(28.4 578.4 338.6)" fill="#fff" stroke="#1c1c1c" stroke-width="1.25" />
<ellipse cx="578.4" cy="338.6" rx="2.7" ry="4.6" transform="rotate(28.4 578.4 338.6)" fill="none" stroke="#1c1c1c" stroke-width="1.0" />
<path d="M808.3,525.8 L800.4,530.3 L794.9,525.4 L797.3,515.8 L805.3,511.2 L810.8,516.2 Z" fill="#fff" stroke="#1c1c1c" stroke-width="1.4" />
<path d="M800.4,530.3 L794.9,525.4 L797.3,515.8 L805.3,511.2 L809.4,513.6 L801.5,518.2 L799.0,527.8 L804.5,532.8Z" fill="#fff" stroke="none"/>
<path d="M800.4,530.3 L804.5,532.8" fill="none" stroke="#1c1c1c" stroke-width="1.1" />
<path d="M794.9,525.4 L799.0,527.8" fill="none" stroke="#1c1c1c" stroke-width="1.1" />
<path d="M797.3,515.8 L801.5,518.2" fill="none" stroke="#1c1c1c" stroke-width="1.1" />
<path d="M805.3,511.2 L809.4,513.6" fill="none" stroke="#1c1c1c" stroke-width="1.1" />
<path d="M812.5,528.2 L804.5,532.8 L799.0,527.8 L801.5,518.2 L809.4,513.6 L815.0,518.6 Z" fill="#fff" stroke="#1c1c1c" stroke-width="1.4" />
<ellipse cx="807.0" cy="523.2" rx="5.0" ry="7.0" transform="rotate(30.2 807.0 523.2)" fill="none" stroke="#1c1c1c" stroke-width="1.2" />
<ellipse cx="806.1" cy="522.7" rx="3.8" ry="5.6" transform="rotate(30.2 806.1 522.7)" fill="none" stroke="#1c1c1c" stroke-width="1.0" />
<ellipse cx="805.4" cy="522.3" rx="3.4" ry="5.0" transform="rotate(30.2 805.4 522.3)" fill="none" stroke="#1c1c1c" stroke-width="0.7" />
<ellipse cx="382.4" cy="324.2" rx="7.6" ry="11.2" transform="rotate(30.2 382.4 324.2)" fill="#fff" stroke="#1c1c1c" stroke-width="1.6" />
<path d="M376.8,333.9 L379.8,335.7 L391.1,316.3 L388.1,314.6Z" fill="#fff" stroke="none"/>
<path d="M376.8,333.9 L379.8,335.7" fill="none" stroke="#1c1c1c" stroke-width="1.6" />
<path d="M388.1,314.6 L391.1,316.3" fill="none" stroke="#1c1c1c" stroke-width="1.6" />
<ellipse cx="385.5" cy="326.0" rx="7.6" ry="11.2" transform="rotate(30.2 385.5 326.0)" fill="#fff" stroke="#1c1c1c" stroke-width="1.6" />
<ellipse cx="385.5" cy="326.0" rx="6.4" ry="9.6" transform="rotate(30.2 385.5 326.0)" fill="none" stroke="#1c1c1c" stroke-width="1.3" />
<ellipse cx="384.9" cy="325.6" rx="5.2" ry="8.2" transform="rotate(30.2 384.9 325.6)" fill="none" stroke="#1c1c1c" stroke-width="0.9" />
<ellipse cx="382.6" cy="324.3" rx="7.3" ry="11.0" transform="rotate(30.2 382.6 324.3)" fill="none" stroke="#1c1c1c" stroke-width="1.8" />
<path d="M382.0,331.5 L387.0,322.5" fill="none" stroke="#1c1c1c" stroke-width="0.9" />
<path d="M385.0,332.5 L390.0,324.0" fill="none" stroke="#1c1c1c" stroke-width="0.9" />
<ellipse cx="192.9" cy="440.4" rx="7.6" ry="11.2" transform="rotate(30.2 192.9 440.4)" fill="#fff" stroke="#1c1c1c" stroke-width="1.6" />
<path d="M187.3,450.1 L190.3,451.9 L201.6,432.5 L198.6,430.8Z" fill="#fff" stroke="none"/>
<path d="M187.3,450.1 L190.3,451.9" fill="none" stroke="#1c1c1c" stroke-width="1.6" />
<path d="M198.6,430.8 L201.6,432.5" fill="none" stroke="#1c1c1c" stroke-width="1.6" />
<ellipse cx="196.0" cy="442.2" rx="7.6" ry="11.2" transform="rotate(30.2 196.0 442.2)" fill="#fff" stroke="#1c1c1c" stroke-width="1.6" />
<ellipse cx="196.0" cy="442.2" rx="6.4" ry="9.6" transform="rotate(30.2 196.0 442.2)" fill="none" stroke="#1c1c1c" stroke-width="1.3" />
<ellipse cx="195.4" cy="441.8" rx="5.2" ry="8.2" transform="rotate(30.2 195.4 441.8)" fill="none" stroke="#1c1c1c" stroke-width="0.9" />
<ellipse cx="193.1" cy="440.5" rx="7.3" ry="11.0" transform="rotate(30.2 193.1 440.5)" fill="none" stroke="#1c1c1c" stroke-width="1.8" />
<path d="M192.5,447.7 L197.5,438.7" fill="none" stroke="#1c1c1c" stroke-width="0.9" />
<path d="M195.5,448.7 L200.5,440.2" fill="none" stroke="#1c1c1c" stroke-width="0.9" />
<ellipse cx="563.7" cy="428.8" rx="6.8" ry="10.0" transform="rotate(30.2 563.7 428.8)" fill="#fff" stroke="#1c1c1c" stroke-width="1.5" />
<path d="M558.7,437.4 L562.5,439.6 L572.5,422.4 L568.7,420.1Z" fill="#fff" stroke="none"/>
<path d="M558.7,437.4 L562.5,439.6" fill="none" stroke="#1c1c1c" stroke-width="1.5" />
<path d="M568.7,420.1 L572.5,422.4" fill="none" stroke="#1c1c1c" stroke-width="1.5" />
<ellipse cx="567.5" cy="431.0" rx="6.8" ry="10.0" transform="rotate(30.2 567.5 431.0)" fill="#fff" stroke="#1c1c1c" stroke-width="1.5" />
<ellipse cx="564.7" cy="429.3" rx="6.8" ry="10.0" transform="rotate(30.2 564.7 429.3)" fill="none" stroke="#1c1c1c" stroke-width="1.5" />
<ellipse cx="565.8" cy="430.0" rx="6.8" ry="9.9" transform="rotate(30.2 565.8 430.0)" fill="none" stroke="#1c1c1c" stroke-width="1.0" />
<ellipse cx="568.2" cy="431.4" rx="6.0" ry="8.7" transform="rotate(30.2 568.2 431.4)" fill="#fff" stroke="#1c1c1c" stroke-width="1.1" />
<path d="M566.7,438.6 L570.8,435.0" fill="none" stroke="#1c1c1c" stroke-width="0.9" />
<ellipse cx="494.3" cy="512.9" rx="6.8" ry="10.0" transform="rotate(30.2 494.3 512.9)" fill="#fff" stroke="#1c1c1c" stroke-width="1.5" />
<path d="M489.3,521.5 L493.1,523.7 L503.1,506.5 L499.3,504.2Z" fill="#fff" stroke="none"/>
<path d="M489.3,521.5 L493.1,523.7" fill="none" stroke="#1c1c1c" stroke-width="1.5" />
<path d="M499.3,504.2 L503.1,506.5" fill="none" stroke="#1c1c1c" stroke-width="1.5" />
<ellipse cx="498.1" cy="515.1" rx="6.8" ry="10.0" transform="rotate(30.2 498.1 515.1)" fill="#fff" stroke="#1c1c1c" stroke-width="1.5" />
<ellipse cx="495.3" cy="513.4" rx="6.8" ry="10.0" transform="rotate(30.2 495.3 513.4)" fill="none" stroke="#1c1c1c" stroke-width="1.5" />
<ellipse cx="496.4" cy="514.1" rx="6.8" ry="9.9" transform="rotate(30.2 496.4 514.1)" fill="none" stroke="#1c1c1c" stroke-width="1.0" />
<ellipse cx="498.8" cy="515.5" rx="6.0" ry="8.7" transform="rotate(30.2 498.8 515.5)" fill="#fff" stroke="#1c1c1c" stroke-width="1.1" />
<path d="M497.3,522.7 L501.4,519.1" fill="none" stroke="#1c1c1c" stroke-width="0.9" />
<path d="M332.8,315.5 L333.1,320.0 L336.3,320.0 L336.6,315.5" fill="#fff" stroke="#1c1c1c" stroke-width="1.2" />
<ellipse cx="334.3" cy="314.0" rx="4.7" ry="2.7" transform="rotate(0 334.3 314.0)" fill="#fff" stroke="#1c1c1c" stroke-width="1.4" />
<ellipse cx="334.3" cy="312.4" rx="4.7" ry="2.7" transform="rotate(0 334.3 312.4)" fill="#fff" stroke="#1c1c1c" stroke-width="1.5" />
<ellipse cx="334.3" cy="312.1" rx="2.6" ry="1.4" transform="rotate(0 334.3 312.1)" fill="none" stroke="#1c1c1c" stroke-width="1.2" />
<path d="M332.6,311.6 L336.0,312.8" fill="none" stroke="#1c1c1c" stroke-width="0.9" />
<path d="M328.6,349.8 L337.4,343.8 L339.6,344.9 L339.0,349.8 L342.9,354.2 L347.8,355.3 L350.6,358.0 L347.8,359.7 L338.5,365.2 L334.7,364.1 L329.7,357.5 Z" fill="#fff" stroke="#1c1c1c" stroke-width="1.5" />
<path d="M328.6,349.8 L330.5,351.5 L331.8,358.5 L336.0,363.2 L338.5,365.2" fill="none" stroke="#1c1c1c" stroke-width="1.2" />
<path d="M330.5,351.5 L338.6,346.3" fill="none" stroke="#1c1c1c" stroke-width="0.9" />
<path d="M331.8,358.5 L339.0,353.8 L342.9,354.2" fill="none" stroke="#1c1c1c" stroke-width="1.2" />
<path d="M336.0,363.2 L346.5,356.8 L347.8,355.3" fill="none" stroke="#1c1c1c" stroke-width="0.9" />
<path d="M334.0,350.5 L334.6,356.2" fill="none" stroke="#1c1c1c" stroke-width="0.8" />
<path d="M336.5,349.0 L337.0,354.8" fill="none" stroke="#1c1c1c" stroke-width="0.8" />
<ellipse cx="339.6" cy="359.1" rx="1.5" ry="1.1" transform="rotate(0 339.6 359.1)" fill="#333" stroke="#1c1c1c" stroke-width="1.2" />
<path d="M101.9,210.2 L102.3,215.2 L105.1,215.2 L104.9,210.2" fill="#fff" stroke="#1c1c1c" stroke-width="0.9" />
<ellipse cx="103.3" cy="209.4" rx="3.4" ry="2.3" transform="rotate(0 103.3 209.4)" fill="#fff" stroke="#1c1c1c" stroke-width="1.4" />
<ellipse cx="103.3" cy="208.2" rx="3.4" ry="2.3" transform="rotate(0 103.3 208.2)" fill="#fff" stroke="#1c1c1c" stroke-width="1.5" />
<ellipse cx="103.3" cy="208.0" rx="1.7" ry="1.1" transform="rotate(0 103.3 208.0)" fill="none" stroke="#1c1c1c" stroke-width="1.1" />
<path d="M128.9,412.1 L129.7,417.6 L132.7,417.6 L131.7,412.1" fill="#fff" stroke="#1c1c1c" stroke-width="1.3" />
<ellipse cx="131.5" cy="418.4" rx="3.5" ry="2.6" transform="rotate(-15 131.5 418.4)" fill="#fff" stroke="#1c1c1c" stroke-width="1.5" />
<ellipse cx="131.5" cy="419.8" rx="3.5" ry="2.8" transform="rotate(-15 131.5 419.8)" fill="#fff" stroke="#1c1c1c" stroke-width="1.6" />
<ellipse cx="106.7" cy="248.6" rx="8.1" ry="4.6" transform="rotate(-12 106.7 248.6)" fill="#fff" stroke="#1c1c1c" stroke-width="1.4" />
<ellipse cx="106.7" cy="247.6" rx="8.1" ry="4.6" transform="rotate(-12 106.7 247.6)" fill="#2a2a2a" stroke="#1c1c1c" stroke-width="1.4" />
<ellipse cx="106.7" cy="247.6" rx="6.2" ry="3.2" transform="rotate(-12 106.7 247.6)" fill="none" stroke="#bbb" stroke-width="0.7" stroke-dasharray="2 1.5"/>
<ellipse cx="106.7" cy="247.6" rx="3.4" ry="1.5" transform="rotate(-12 106.7 247.6)" fill="#ddd" stroke="#1c1c1c" stroke-width="0.9" />
<ellipse cx="124.0" cy="387.6" rx="8.1" ry="4.6" transform="rotate(-20 124.0 387.6)" fill="#fff" stroke="#1c1c1c" stroke-width="1.4" />
<ellipse cx="124.0" cy="386.6" rx="8.1" ry="4.6" transform="rotate(-20 124.0 386.6)" fill="#2a2a2a" stroke="#1c1c1c" stroke-width="1.4" />
<ellipse cx="124.0" cy="386.6" rx="6.2" ry="3.2" transform="rotate(-20 124.0 386.6)" fill="none" stroke="#bbb" stroke-width="0.7" stroke-dasharray="2 1.5"/>
<ellipse cx="124.0" cy="386.6" rx="3.4" ry="1.5" transform="rotate(-20 124.0 386.6)" fill="#ddd" stroke="#1c1c1c" stroke-width="0.9" />
<path d="M386.5,471.9 L389.5,468.9 L393.0,471.4 L393.5,475.9 L390.0,478.9 L387.0,476.4 Z" fill="#999" stroke="#1c1c1c" stroke-width="1.3" />
<path d="M389.5,468.9 L390.0,473.9 L387.0,476.4" fill="none" stroke="#1c1c1c" stroke-width="0.8" />
<path d="M390.0,473.9 L393.5,475.9" fill="none" stroke="#1c1c1c" stroke-width="0.8" />
<path d="M393.5,473.4 L396.5,474.7 L396.5,477.9 L393.0,478.4" fill="#fff" stroke="#1c1c1c" stroke-width="1.4" />
<path d="M396.5,475.9 L414.0,475.9" fill="none" stroke="#1c1c1c" stroke-width="0.9" />
<ellipse cx="415.3" cy="476.1" rx="1.3" ry="1.1" transform="rotate(0 415.3 476.1)" fill="none" stroke="#1c1c1c" stroke-width="0.9" />
<path d="M168.5,546.7 L171.3,543.4 L175.5,544.4 L177.3,548.8 L174.9,552.8 L170.5,551.8 Z" fill="#fff" stroke="#1c1c1c" stroke-width="1.2" />
<path d="M171.3,543.4 L172.5,547.0 L170.5,551.8" fill="none" stroke="#1c1c1c" stroke-width="0.8" />
<path d="M172.5,547.0 L177.3,548.8" fill="none" stroke="#1c1c1c" stroke-width="0.8" />
<ellipse cx="174.2" cy="549.8" rx="1.5" ry="1.9" transform="rotate(-40 174.2 549.8)" fill="none" stroke="#1c1c1c" stroke-width="0.9" />
<path d="M286.0,614.8 L288.8,611.5 L293.0,612.5 L294.8,616.9 L292.4,620.9 L288.0,619.9 Z" fill="#fff" stroke="#1c1c1c" stroke-width="1.2" />
<path d="M288.8,611.5 L290.0,615.1 L288.0,619.9" fill="none" stroke="#1c1c1c" stroke-width="0.8" />
<path d="M290.0,615.1 L294.8,616.9" fill="none" stroke="#1c1c1c" stroke-width="0.8" />
<ellipse cx="291.7" cy="617.9" rx="1.5" ry="1.9" transform="rotate(-40 291.7 617.9)" fill="none" stroke="#1c1c1c" stroke-width="0.9" />
<path d="M127.9,591.0 L129.5,588.2 L126.8,584.7 L123.7,585.6 Z" fill="#fff" stroke="#1c1c1c" stroke-width="1.0" />
<ellipse cx="125.8" cy="588.3" rx="2.0" ry="3.4" transform="rotate(-38.527729697096795 125.8 588.3)" fill="#fff" stroke="#1c1c1c" stroke-width="1.0" />
<line x1="127.5" y1="586.9" x2="152.3" y2="567.2" stroke="#151515" stroke-width="4.3" stroke-linecap="butt"/>
<line x1="127.5" y1="586.9" x2="152.3" y2="567.2" stroke="#151515" stroke-width="5.0" stroke-linecap="butt" stroke-dasharray="0.6 0.9"/>
<path d="M246.4,659.5 L247.9,656.6 L245.1,653.3 L242.0,654.3 Z" fill="#fff" stroke="#1c1c1c" stroke-width="1.0" />
<ellipse cx="244.2" cy="656.9" rx="2.0" ry="3.4" transform="rotate(-40.377629758315756 244.2 656.9)" fill="#fff" stroke="#1c1c1c" stroke-width="1.0" />
<line x1="245.9" y1="655.5" x2="269.6" y2="635.3" stroke="#151515" stroke-width="4.3" stroke-linecap="butt"/>
<line x1="245.9" y1="655.5" x2="269.6" y2="635.3" stroke="#151515" stroke-width="5.0" stroke-linecap="butt" stroke-dasharray="0.6 0.9"/>
<path d="M75.4,621.7 L89.6,608.9 L92.9,611.1 L96.2,624.3 L81.9,637.0 L78.0,634.8 Z" fill="#fff" stroke="#1c1c1c" stroke-width="1.2" />
<path d="M75.4,621.7 L78.8,623.6 L92.9,611.1" fill="none" stroke="#1c1c1c" stroke-width="0.9" />
<path d="M78.8,623.6 L81.9,637.0" fill="none" stroke="#1c1c1c" stroke-width="0.9" />
<ellipse cx="86.7" cy="624.3" rx="2.7" ry="3.5" transform="rotate(35 86.7 624.3)" fill="none" stroke="#1c1c1c" stroke-width="1.0" />
<ellipse cx="87.2" cy="624.6" rx="2.0" ry="2.7" transform="rotate(35 87.2 624.6)" fill="none" stroke="#1c1c1c" stroke-width="0.7" />
<path d="M171.7,703.4 L171.9,696.3 L172.1,692.4 L174.5,687.7 L178.4,686.1 L182.3,688.5 L183.5,692.4 L183.3,696.3 L206.2,675.2 L210.1,677.5 L213.6,690.1 L198.4,702.6 L189.8,711.2 L178.8,715.1 L174.9,712.8 Z" fill="#fff" stroke="#1c1c1c" stroke-width="1.4" />
<path d="M175.7,702.6 L175.7,694.0 L176.8,690.1 L179.2,688.9 L181.5,690.5 L182.3,693.6 L183.1,697.9 L184.3,699.5 L195.2,688.5 L210.1,677.5" fill="none" stroke="#1c1c1c" stroke-width="1.1" />
<path d="M175.7,702.6 L177.6,711.2 L178.8,715.1" fill="none" stroke="#1c1c1c" stroke-width="1.1" />
<path d="M183.5,692.4 L184.3,695.5" fill="none" stroke="#1c1c1c" stroke-width="0.9" />
<path d="M195.2,688.5 L198.4,702.6" fill="none" stroke="#1c1c1c" stroke-width="1.2" />
<path d="M194.8,687.3 L205.8,677.5" fill="none" stroke="#1c1c1c" stroke-width="0.8" />
<ellipse cx="204.2" cy="690.1" rx="3.4" ry="4.8" transform="rotate(32 204.2 690.1)" fill="none" stroke="#1c1c1c" stroke-width="1.5" />
<ellipse cx="203.6" cy="690.4" rx="2.2" ry="3.4" transform="rotate(32 203.6 690.4)" fill="none" stroke="#1c1c1c" stroke-width="0.9" />
<ellipse cx="179.7" cy="693.2" rx="1.4" ry="1.7" transform="rotate(0 179.7 693.2)" fill="#151515" stroke="#1c1c1c" stroke-width="1.0" />
<ellipse cx="189.8" cy="705.7" rx="1.4" ry="1.8" transform="rotate(0 189.8 705.7)" fill="#151515" stroke="#1c1c1c" stroke-width="1.0" />
<path d="M22.1,89.6 L23.6,86.3 L26.5,83.6 L46.8,76.4 L48.4,79.2 L45.2,88.5 L44.1,100.6 L49.0,109.9 L58.9,117.0 L58.9,119.8 L51.2,121.6 L33.6,111.5 L28.2,106.1 L24.3,96.2 Z" fill="#fff" stroke="#1c1c1c" stroke-width="1.6" />
<path d="M24.6,89.8 L27.6,85.8 L46.2,78.9" fill="none" stroke="#1c1c1c" stroke-width="1.1" />
<path d="M24.6,89.8 L26.5,96.7 L30.4,105.0 L35.3,109.9 L51.7,119.2" fill="none" stroke="#1c1c1c" stroke-width="1.1" />
<ellipse cx="32.5" cy="90.2" rx="0.9" ry="1.1" transform="rotate(0 32.5 90.2)" fill="#151515" stroke="#1c1c1c" stroke-width="1.0" />
<ellipse cx="35.3" cy="89.1" rx="0.9" ry="1.1" transform="rotate(0 35.3 89.1)" fill="#151515" stroke="#1c1c1c" stroke-width="1.0" />
<ellipse cx="35.8" cy="91.2" rx="0.9" ry="1.1" transform="rotate(0 35.8 91.2)" fill="#151515" stroke="#1c1c1c" stroke-width="1.0" />
<ellipse cx="28.7" cy="93.4" rx="0.9" ry="1.1" transform="rotate(0 28.7 93.4)" fill="#151515" stroke="#1c1c1c" stroke-width="1.0" />
<ellipse cx="31.4" cy="98.4" rx="0.9" ry="1.1" transform="rotate(0 31.4 98.4)" fill="#151515" stroke="#1c1c1c" stroke-width="1.0" />
<ellipse cx="29.3" cy="96.2" rx="0.9" ry="1.1" transform="rotate(0 29.3 96.2)" fill="#151515" stroke="#1c1c1c" stroke-width="1.0" />
<path d="M50.1,75.4 L63.2,69.3 L67.6,69.0 L80.8,71.8 L82.4,75.4 L86.3,89.6 L76.4,92.9 L73.1,106.1 L76.4,118.7 L58.9,119.8 L58.9,117.0 L49.0,109.9 L44.1,100.6 L45.2,88.5 L46.8,80.8 Z" fill="#fff" stroke="#1c1c1c" stroke-width="1.6" />
<path d="M50.1,75.4 L52.8,78.6 L64.9,72.3 L78.6,74.8 L83.2,89.8" fill="none" stroke="#1c1c1c" stroke-width="1.1" />
<path d="M52.8,78.6 L49.9,89.1 L48.8,99.5 L52.8,107.1 L56.1,106.9 L59.4,116.8" fill="none" stroke="#1c1c1c" stroke-width="1.2" />
<path d="M49.0,109.9 L52.8,107.1" fill="none" stroke="#1c1c1c" stroke-width="0.9" />
<path d="M46.8,80.8 L49.0,81.9" fill="none" stroke="#1c1c1c" stroke-width="0.9" />
<ellipse cx="56.4" cy="92.2" rx="5.2" ry="7.6" transform="rotate(20 56.4 92.2)" fill="#fff" stroke="#1c1c1c" stroke-width="2.0" />
<ellipse cx="56.4" cy="92.2" rx="3.6" ry="5.6" transform="rotate(20 56.4 92.2)" fill="none" stroke="#1c1c1c" stroke-width="1.5" />
<ellipse cx="56.6" cy="92.3" rx="1.8" ry="3.0" transform="rotate(20 56.6 92.3)" fill="none" stroke="#1c1c1c" stroke-width="1.3" />
<ellipse cx="56.4" cy="92.2" rx="6.4" ry="8.8" transform="rotate(20 56.4 92.2)" fill="none" stroke="#1c1c1c" stroke-width="1.8" stroke-dasharray="1.4 1.2"/>
<path d="M51.2,121.6 L58.9,119.8 L76.4,118.7 L87.9,117.0 L87.6,125.8 L86.8,131.8 L79.7,140.0 L62.1,141.7 L52.3,130.2 Z" fill="#fff" stroke="#1c1c1c" stroke-width="1.7" />
<path d="M55.6,124.9 L76.4,122.0" fill="none" stroke="#1c1c1c" stroke-width="1.2" />
<path d="M57.2,128.2 L74.8,125.8" fill="none" stroke="#1c1c1c" stroke-width="1.2" />
<path d="M58.9,131.5 L73.1,130.0" fill="none" stroke="#1c1c1c" stroke-width="1.2" />
<path d="M55.6,124.9 L58.9,131.5 L61.6,136.8 L62.1,141.7" fill="none" stroke="#1c1c1c" stroke-width="1.1" />
<path d="M61.6,136.8 L72.0,133.7 L80.8,138.4" fill="none" stroke="#1c1c1c" stroke-width="1.1" />
<path d="M76.4,118.7 L78.0,130.2 L80.8,138.4" fill="none" stroke="#1c1c1c" stroke-width="1.1" />
<path d="M72.0,133.7 L78.0,130.2 L86.8,128.5" fill="none" stroke="#1c1c1c" stroke-width="1.1" />
<ellipse cx="83.3" cy="98.9" rx="8.2" ry="12.6" transform="rotate(30.2 83.3 98.9)" fill="#fff" stroke="#1c1c1c" stroke-width="1.3" />
<ellipse cx="84.6" cy="99.7" rx="8.2" ry="12.6" transform="rotate(30.2 84.6 99.7)" fill="#fff" stroke="#1c1c1c" stroke-width="1.3" />
<ellipse cx="85.8" cy="100.4" rx="8.2" ry="12.6" transform="rotate(30.2 85.8 100.4)" fill="#fff" stroke="#1c1c1c" stroke-width="1.3" />
<ellipse cx="87.1" cy="101.2" rx="8.2" ry="12.6" transform="rotate(30.2 87.1 101.2)" fill="#fff" stroke="#1c1c1c" stroke-width="1.3" />
<ellipse cx="88.4" cy="101.9" rx="8.2" ry="12.6" transform="rotate(30.2 88.4 101.9)" fill="#fff" stroke="#1c1c1c" stroke-width="1.3" />
<ellipse cx="89.7" cy="102.7" rx="9.2" ry="14.3" transform="rotate(30.2 89.7 102.7)" fill="#fff" stroke="#1c1c1c" stroke-width="1.5" />
<ellipse cx="90.6" cy="103.2" rx="9.2" ry="14.1" transform="rotate(30.2 90.6 103.2)" fill="#fff" stroke="#1c1c1c" stroke-width="1.2" />
<ellipse cx="91.0" cy="103.5" rx="7.0" ry="11.0" transform="rotate(30.2 91.0 103.5)" fill="#fff" stroke="#1c1c1c" stroke-width="1.4" />
<ellipse cx="91.6" cy="103.8" rx="5.8" ry="9.2" transform="rotate(30.2 91.6 103.8)" fill="#fff" stroke="#1c1c1c" stroke-width="1.2" />
<path d="M93.4,108.8 L88.8,110.0 L87.3,105.6 L90.5,100.0 L95.1,98.8 L96.5,103.2 Z" fill="#fff" stroke="#1c1c1c" stroke-width="1.2" />
<path d="M96.9,110.8 L93.4,108.8" fill="none" stroke="#1c1c1c" stroke-width="1.0" />
<path d="M92.3,112.0 L88.8,110.0" fill="none" stroke="#1c1c1c" stroke-width="1.0" />
<path d="M90.8,107.6 L87.3,105.6" fill="none" stroke="#1c1c1c" stroke-width="1.0" />
<path d="M93.9,102.0 L90.5,100.0" fill="none" stroke="#1c1c1c" stroke-width="1.0" />
<path d="M98.5,100.8 L95.1,98.8" fill="none" stroke="#1c1c1c" stroke-width="1.0" />
<path d="M100.0,105.2 L96.5,103.2" fill="none" stroke="#1c1c1c" stroke-width="1.0" />
<path d="M96.9,110.8 L92.3,112.0 L90.8,107.6 L93.9,102.0 L98.5,100.8 L100.0,105.2 Z" fill="#fff" stroke="#1c1c1c" stroke-width="1.3" />
<ellipse cx="95.4" cy="106.4" rx="2.2" ry="3.4" transform="rotate(30.2 95.4 106.4)" fill="none" stroke="#1c1c1c" stroke-width="1.0" />
<path d="M89.4,98.7 L93.4,95.2" fill="none" stroke="#1c1c1c" stroke-width="1.3" />
<path d="M87.9,104.7 L90.4,110.2" fill="none" stroke="#1c1c1c" stroke-width="1.3" />
<path d="M811.4,549.8 L812.7,546.8 L817.4,541.3 L831.3,535.9 L834.8,538.8 L837.7,552.7 L834.8,561.7 L840.7,571.6 L848.7,577.5 L846.7,580.0 L834.8,579.5 L816.9,569.6 L811.9,557.7 Z" fill="#fff" stroke="#1c1c1c" stroke-width="1.5" />
<path d="M813.4,550.3 L818.4,543.3 L831.8,538.1" fill="none" stroke="#1c1c1c" stroke-width="1.0" />
<path d="M813.4,550.3 L814.1,557.2 L818.4,568.1 L834.8,577.5" fill="none" stroke="#1c1c1c" stroke-width="1.0" />
<path d="M815.7,550.3 L817.4,548.3 L819.1,550.3 L817.4,552.3 Z" fill="#151515" stroke="#1c1c1c" stroke-width="0.8" />
<path d="M822.6,547.3 L824.3,545.3 L826.0,547.3 L824.3,549.3 Z" fill="#151515" stroke="#1c1c1c" stroke-width="0.8" />
<path d="M828.9,544.6 L830.6,542.6 L832.3,544.6 L830.6,546.6 Z" fill="#151515" stroke="#1c1c1c" stroke-width="0.8" />
<path d="M818.2,556.2 L819.9,554.2 L821.6,556.2 L819.9,558.2 Z" fill="#151515" stroke="#1c1c1c" stroke-width="0.8" />
<path d="M825.1,554.2 L826.8,552.2 L828.5,554.2 L826.8,556.2 Z" fill="#151515" stroke="#1c1c1c" stroke-width="0.8" />
<path d="M820.7,562.2 L822.4,560.2 L824.1,562.2 L822.4,564.2 Z" fill="#151515" stroke="#1c1c1c" stroke-width="0.8" />
<path d="M834.8,532.9 L848.7,527.4 L855.6,527.9 L861.5,529.9 L866.0,534.9 L868.5,538.8 L870.0,544.8 L870.5,549.8 L864.5,561.7 L863.5,575.6 L848.7,579.5 L848.7,577.5 L840.7,571.6 L834.8,561.7 L837.7,552.7 L836.2,542.8 Z" fill="#fff" stroke="#1c1c1c" stroke-width="1.5" />
<path d="M834.8,532.9 L837.7,536.4 L839.2,543.3 L839.9,552.7 L836.9,561.7 L842.5,570.6 L849.4,576.1" fill="none" stroke="#1c1c1c" stroke-width="1.0" />
<path d="M837.7,536.4 L849.1,530.4" fill="none" stroke="#1c1c1c" stroke-width="1.0" />
<path d="M838.2,561.2 L841.2,559.7 L850.1,575.6 L847.2,578.0 Z" fill="#fff" stroke="#1c1c1c" stroke-width="1.2" />
<path d="M841.9,567.6 L846.5,569.6 L850.1,576.1 L847.2,578.0 L843.2,572.1 Z" fill="#2a2a2a" stroke="#1c1c1c" stroke-width="1.0" />
<ellipse cx="845.7" cy="554.2" rx="3.6" ry="5.6" transform="rotate(22 845.7 554.2)" fill="#fff" stroke="#1c1c1c" stroke-width="1.3" />
<path d="M842.7,551.8 L847.5,549.0" fill="none" stroke="#1c1c1c" stroke-width="0.7" />
<path d="M843.0,553.7 L847.8,550.9" fill="none" stroke="#1c1c1c" stroke-width="0.7" />
<path d="M843.3,555.6 L848.1,552.8" fill="none" stroke="#1c1c1c" stroke-width="0.7" />
<path d="M843.6,557.5 L848.4,554.7" fill="none" stroke="#1c1c1c" stroke-width="0.7" />
<path d="M843.9,559.4 L848.7,556.6" fill="none" stroke="#1c1c1c" stroke-width="0.7" />
<path d="M833.5,580.0 L838.1,583.8 L864.2,579.6 L864.2,587.7 L858.1,600.8 L853.5,602.3 L842.7,598.5 L837.3,586.9 Z" fill="#fff" stroke="#1c1c1c" stroke-width="1.5" />
<path d="M842.7,586.2 L862.7,583.1" fill="none" stroke="#1c1c1c" stroke-width="1.1" />
<path d="M845.8,588.5 L864.2,587.7" fill="none" stroke="#1c1c1c" stroke-width="1.1" />
<path d="M838.1,583.8 L848.1,595.4 L851.2,601.2" fill="none" stroke="#1c1c1c" stroke-width="1.1" />
<path d="M837.3,586.9 L841.2,590.0 L848.1,595.4" fill="none" stroke="#1c1c1c" stroke-width="0.9" />
<path d="M850.0,590.0 L854.2,588.5 L860.4,595.4 L856.9,601.2 L852.7,600.0 L848.8,593.8 Z" fill="#1e1e1e" stroke="#1c1c1c" stroke-width="1.0" />
<ellipse cx="869.9" cy="563.9" rx="9.0" ry="16.3" transform="rotate(19 869.9 563.9)" fill="#fff" stroke="#1c1c1c" stroke-width="1.4" />
<ellipse cx="871.5" cy="562.7" rx="9.0" ry="16.3" transform="rotate(19 871.5 562.7)" fill="#fff" stroke="#1c1c1c" stroke-width="1.6" />
<ellipse cx="872.1" cy="562.5" rx="7.2" ry="13.4" transform="rotate(19 872.1 562.5)" fill="none" stroke="#1c1c1c" stroke-width="1.0" />
<ellipse cx="873.3" cy="561.8" rx="5.0" ry="9.4" transform="rotate(19 873.3 561.8)" fill="#fff" stroke="#1c1c1c" stroke-width="1.5" />
<ellipse cx="872.5" cy="562.3" rx="5.0" ry="9.4" transform="rotate(19 872.5 562.3)" fill="none" stroke="#1c1c1c" stroke-width="0.8" />
<path d="M35.2,327.3 L43.1,318.9 L61.1,301.4 L79.2,287.5 L97.3,275.0 L115.4,263.2 L136.1,248.6 L155.0,235.2 L172.3,223.6 L180.0,219.6 L184.3,217.9 L188.6,219.9 L190.4,224.1 L195.2,230.1 L194.6,234.9 L189.2,248.2 L181.9,257.8 L163.9,275.9 L142.8,295.3 L119.8,319.4 L119.2,325.8 L119.8,331.3 L114.8,336.8 L107.1,337.9 L92.1,350.3 L47.1,368.5 L43.9,364.6 Z" fill="#fff" stroke="#1c1c1c" stroke-width="0" />
<path d="M35.2,327.3 C36.5,325.9 38.8,323.2 43.1,318.9 C47.4,314.6 55.1,306.6 61.1,301.4 C67.1,296.2 73.2,291.9 79.2,287.5 C85.2,283.1 91.3,279.1 97.3,275.0 C103.3,270.9 108.9,267.6 115.4,263.2 C121.9,258.8 129.5,253.3 136.1,248.6 C142.7,243.9 149.0,239.4 155.0,235.2 C161.0,231.0 168.1,226.2 172.3,223.6 C176.5,221.0 178.0,220.5 180.0,219.6 C182.0,218.7 183.6,218.2 184.3,217.9" fill="none" stroke="#1c1c1c" stroke-width="1.3" />
<path d="M184.3,217.9 C185.0,218.2 187.5,218.8 188.6,219.9 C189.6,220.9 189.3,222.4 190.4,224.1 C191.5,225.8 194.5,228.3 195.2,230.1 C195.9,231.9 195.6,231.9 194.6,234.9 C193.6,238.0 191.3,244.4 189.2,248.2 C187.0,252.0 186.1,253.2 181.9,257.8 C177.7,262.4 170.4,269.7 163.9,275.9 C157.3,282.1 150.2,288.0 142.8,295.3 C135.5,302.5 123.6,315.4 119.8,319.4" fill="none" stroke="#1c1c1c" stroke-width="1.3" />
<path d="M44.2,320.5 C47.2,317.5 56.2,308.2 62.2,303.0 C68.2,297.7 74.2,293.5 80.3,289.1 C86.3,284.7 92.3,280.6 98.4,276.6 C104.4,272.5 110.0,269.2 116.5,264.8 C122.9,260.4 130.6,254.8 137.2,250.2 C143.8,245.5 150.0,240.9 156.1,236.8 C162.1,232.6 169.2,227.8 173.4,225.2 C177.5,222.6 179.1,222.1 181.1,221.2 C183.1,220.2 184.7,219.7 185.4,219.5" fill="none" stroke="#1c1c1c" stroke-width="0.95" />
<path d="M45.2,321.9 C48.2,319.0 57.2,309.7 63.2,304.4 C69.2,299.2 75.3,294.9 81.3,290.5 C87.3,286.1 93.4,282.1 99.4,278.0 C105.4,274.0 111.0,270.6 117.5,266.2 C124.0,261.8 131.6,256.3 138.2,251.6 C144.8,247.0 151.1,242.4 157.1,238.2 C163.1,234.1 170.2,229.2 174.4,226.6 C178.6,224.0 180.1,223.6 182.1,222.6 C184.1,221.7 185.7,221.2 186.4,220.9" fill="none" stroke="#1c1c1c" stroke-width="0.95" />
<path d="M46.2,323.4 C49.2,320.5 58.2,311.2 64.2,305.9 C70.2,300.7 76.3,296.4 82.3,292.0 C88.4,287.6 94.4,283.6 100.4,279.5 C106.5,275.5 112.1,272.1 118.5,267.7 C125.0,263.3 132.6,257.8 139.2,253.1 C145.8,248.5 152.1,243.9 158.1,239.7 C164.2,235.6 171.3,230.7 175.4,228.1 C179.6,225.5 181.8,224.8 183.1,224.1" fill="none" stroke="#1c1c1c" stroke-width="0.95" />
<path d="M37.0,329.7 L44.2,320.5" fill="none" stroke="#1c1c1c" stroke-width="0.9" />
<path d="M37.0,329.7 L45.3,322.0" fill="none" stroke="#1c1c1c" stroke-width="0.9" />
<path d="M112.0,278.3 C115.1,276.2 123.1,270.6 130.1,265.7 C137.1,260.7 146.8,253.9 154.2,248.8 C161.6,243.7 169.9,238.3 174.7,234.9 C179.5,231.6 181.1,230.0 183.1,228.9 C185.1,227.8 185.5,227.9 186.7,228.3 C188.0,228.7 189.8,230.8 190.4,231.3" fill="none" stroke="#1c1c1c" stroke-width="1.0" />
<path d="M112.9,279.7 C116.0,277.6 124.0,272.0 131.0,267.1 C138.0,262.1 147.7,255.3 155.1,250.2 C162.5,245.1 170.8,239.7 175.6,236.3 C180.4,233.0 182.6,231.3 184.0,230.3" fill="none" stroke="#1c1c1c" stroke-width="0.9" />
<ellipse cx="189.9" cy="233.2" rx="1.3" ry="2.0" transform="rotate(20 189.9 233.2)" fill="none" stroke="#1c1c1c" stroke-width="1.0" />
<path d="M112.0,278.3 L111.8,281.0" fill="none" stroke="#1c1c1c" stroke-width="0.9" />
<path d="M189.4,225.3 C190.0,226.2 192.5,229.1 193.0,230.7 C193.5,232.4 193.4,232.4 192.5,235.2 C191.6,237.9 189.7,243.7 187.7,247.2 C185.7,250.8 184.7,252.0 180.5,256.6 C176.3,261.2 165.6,271.9 162.7,274.9" fill="none" stroke="#1c1c1c" stroke-width="0.9" />
<path d="M184.3,230.1 C184.1,231.1 184.1,233.9 183.1,236.1 C182.1,238.4 180.3,240.8 178.3,243.4 C176.3,246.0 179.1,243.7 171.1,251.8 C163.1,260.0 140.4,282.3 130.1,292.3 C119.8,302.3 114.8,307.2 109.3,311.6 C103.9,316.1 100.3,316.6 97.3,318.9 C94.3,321.1 92.3,323.9 91.3,324.9" fill="none" stroke="#1c1c1c" stroke-width="1.0" />
<path d="M178.3,243.4 L186.7,248.2" fill="none" stroke="#1c1c1c" stroke-width="1.0" />
<path d="M177.1,245.2 L185.8,250.0" fill="none" stroke="#1c1c1c" stroke-width="1.0" />
<path d="M171.1,251.8 L180.7,256.6" fill="none" stroke="#1c1c1c" stroke-width="1.0" />
<path d="M169.9,253.6 L179.5,258.1" fill="none" stroke="#1c1c1c" stroke-width="1.0" />
<path d="M119.0,322.5 L163.9,275.9" fill="none" stroke="#1c1c1c" stroke-width="1.1" />
<path d="M117.8,321.0 L162.6,274.5" fill="none" stroke="#1c1c1c" stroke-width="0.8" />
<path d="M97.3,318.9 L106.9,324.9" fill="none" stroke="#1c1c1c" stroke-width="0.9" />
<path d="M104.5,314.6 L114.2,320.7" fill="none" stroke="#1c1c1c" stroke-width="0.9" />
<path d="M109.3,311.6 L119.0,317.7" fill="none" stroke="#1c1c1c" stroke-width="0.9" />
<path d="M82.8,305.6 L102.1,292.3" fill="none" stroke="#1c1c1c" stroke-width="1.0" />
<path d="M83.6,307.0 L102.7,293.8" fill="none" stroke="#1c1c1c" stroke-width="0.8" />
<path d="M97.3,285.1 L103.3,288.7" fill="none" stroke="#1c1c1c" stroke-width="0.8" />
<path d="M109.3,278.5 L109.9,284.5" fill="none" stroke="#1c1c1c" stroke-width="0.9" />
<path d="M112.3,276.7 L113.0,283.3" fill="none" stroke="#1c1c1c" stroke-width="0.9" />
<ellipse cx="133.2" cy="292.1" rx="1.6" ry="1.6" transform="rotate(0 133.2 292.1)" fill="#444" stroke="#1c1c1c" stroke-width="1.4" />
<path d="M37.0,329.7 L40.7,328.5 L52.7,320.7 L75.0,311.0 L82.8,306.8 L92.1,350.3 L47.1,368.5 L43.9,364.6 Z" fill="#fff" stroke="#1c1c1c" stroke-width="1.3" />
<path d="M41.3,329.9 L53.0,322.2 L75.0,312.6" fill="none" stroke="#1c1c1c" stroke-width="0.9" />
<path d="M75.0,311.0 L81.6,347.3 L84.4,352.5" fill="none" stroke="#1c1c1c" stroke-width="1.0" />
<path d="M39.0,332.8 L45.6,365.0" fill="none" stroke="#1c1c1c" stroke-width="0.9" />
<path d="M43.9,350.3 L87.7,333.9" fill="none" stroke="#1c1c1c" stroke-width="1.0" />
<path d="M82.8,306.8 L90.7,347.3" fill="none" stroke="#1c1c1c" stroke-width="1.4" />
<path d="M92.5,344.2 L103.3,336.9" fill="none" stroke="#1c1c1c" stroke-width="1.0" />
<path d="M91.5,342.0 L102.1,335.1" fill="none" stroke="#1c1c1c" stroke-width="0.8" />
<ellipse cx="110.5" cy="292.9" rx="9.6" ry="7.2" transform="rotate(-12 110.5 292.9)" fill="#fff" stroke="#1c1c1c" stroke-width="1.3" />
<ellipse cx="111.1" cy="291.7" rx="9.6" ry="7.2" transform="rotate(-12 111.1 291.7)" fill="#fff" stroke="#1c1c1c" stroke-width="1.3" />
<ellipse cx="111.4" cy="291.5" rx="6.8" ry="4.8" transform="rotate(-12 111.4 291.5)" fill="none" stroke="#1c1c1c" stroke-width="1.3" />
<ellipse cx="111.6" cy="291.5" rx="4.8" ry="3.0" transform="rotate(-12 111.6 291.5)" fill="none" stroke="#1c1c1c" stroke-width="1.0" />
<path d="M109.1,293.2 L112.1,289.2" fill="none" stroke="#1c1c1c" stroke-width="0.8" />
<path d="M112.1,293.5 L114.6,289.9" fill="none" stroke="#1c1c1c" stroke-width="0.8" />
<ellipse cx="110.5" cy="332.1" rx="9.6" ry="7.2" transform="rotate(-12 110.5 332.1)" fill="#fff" stroke="#1c1c1c" stroke-width="1.3" />
<ellipse cx="111.1" cy="330.9" rx="9.6" ry="7.2" transform="rotate(-12 111.1 330.9)" fill="#fff" stroke="#1c1c1c" stroke-width="1.3" />
<ellipse cx="111.4" cy="330.7" rx="6.8" ry="4.8" transform="rotate(-12 111.4 330.7)" fill="none" stroke="#1c1c1c" stroke-width="1.3" />
<ellipse cx="111.6" cy="330.7" rx="4.8" ry="3.0" transform="rotate(-12 111.6 330.7)" fill="none" stroke="#1c1c1c" stroke-width="1.0" />
<path d="M109.1,332.4 L112.1,328.4" fill="none" stroke="#1c1c1c" stroke-width="0.8" />
<path d="M112.1,332.7 L114.6,329.1" fill="none" stroke="#1c1c1c" stroke-width="0.8" />
<path class="td" d="M850.0,558.5 L897.0,585.0" fill="none" stroke="#1c1c1c" stroke-width="1.15" stroke-dasharray="6.5 2.8"/>
<path class="td" d="M204.0,446.5 L254.0,475.5" fill="none" stroke="#1c1c1c" stroke-width="1.15" stroke-dasharray="6.5 2.8"/>
<path class="td" d="M394.0,331.0 L447.0,361.0" fill="none" stroke="#1c1c1c" stroke-width="1.15" stroke-dasharray="6.5 2.8"/>
<path class="td" d="M432.9,352.4 L454.8,365.5" fill="none" stroke="#1c1c1c" stroke-width="1.15" stroke-dasharray="6.5 2.8"/>
<path class="td" d="M496.5,389.6 L558.0,425.0" fill="none" stroke="#1c1c1c" stroke-width="1.15" stroke-dasharray="6.5 2.8"/>
<path class="td" d="M347.0,360.0 L384.0,381.5" fill="none" stroke="#1c1c1c" stroke-width="1.15" stroke-dasharray="6.5 2.8"/>
<path class="td" d="M417.5,471.0 L487.0,510.5" fill="none" stroke="#1c1c1c" stroke-width="1.15" stroke-dasharray="6.5 2.8"/>
<path class="td" d="M295.5,612.5 L342.0,573.5" fill="none" stroke="#1c1c1c" stroke-width="1.15" stroke-dasharray="6.5 2.8"/>
<g style="filter:grayscale(1)">
<text x="9.0" y="18.6" class="lb">1</text>
<line x1="8.5" y1="24.5" x2="8.5" y2="59.5" stroke="#1c1c1c" stroke-width="1.3" stroke-linecap="butt"/>
<text x="90.3" y="47.8" class="lb">2</text>
<line x1="89.5" y1="52.5" x2="89.5" y2="88.0" stroke="#1c1c1c" stroke-width="1.3" stroke-linecap="butt"/>
<text x="192.4" y="116.2" class="lb">3</text>
<line x1="190.5" y1="120.7" x2="190.5" y2="156.0" stroke="#1c1c1c" stroke-width="1.3" stroke-linecap="butt"/>
<text x="299.8" y="170.6" class="lb">4</text>
<line x1="299.5" y1="176.3" x2="299.5" y2="214.0" stroke="#1c1c1c" stroke-width="1.3" stroke-linecap="butt"/>
<text x="346.2" y="203.0" class="lb">5</text>
<line x1="344.5" y1="207.5" x2="344.5" y2="243.5" stroke="#1c1c1c" stroke-width="1.3" stroke-linecap="butt"/>
<text x="388.0" y="223.0" class="lb">6</text>
<line x1="387.5" y1="228.0" x2="387.5" y2="266.5" stroke="#1c1c1c" stroke-width="1.3" stroke-linecap="butt"/>
<text x="428.2" y="247.6" class="lb">7</text>
<line x1="427.5" y1="253.0" x2="427.5" y2="288.0" stroke="#1c1c1c" stroke-width="1.3" stroke-linecap="butt"/>
<text x="551.0" y="272.0" class="lb">8</text>
<line x1="550.5" y1="277.0" x2="550.5" y2="313.0" stroke="#1c1c1c" stroke-width="1.3" stroke-linecap="butt"/>
<text x="601.0" y="348.2" class="lb">7</text>
<line x1="600.5" y1="351.5" x2="600.5" y2="390.0" stroke="#1c1c1c" stroke-width="1.3" stroke-linecap="butt"/>
<text x="634.0" y="366.9" class="lb">6</text>
<line x1="632.5" y1="372.4" x2="632.5" y2="408.6" stroke="#1c1c1c" stroke-width="1.3" stroke-linecap="butt"/>
<text x="678.4" y="397.6" class="lb">5</text>
<line x1="677.5" y1="403.0" x2="677.5" y2="439.5" stroke="#1c1c1c" stroke-width="1.3" stroke-linecap="butt"/>
<text x="723.0" y="420.2" class="lb">4</text>
<line x1="722.5" y1="425.4" x2="722.5" y2="461.2" stroke="#1c1c1c" stroke-width="1.3" stroke-linecap="butt"/>
<text x="764.5" y="444.5" class="lb">9</text>
<line x1="764.5" y1="450.0" x2="764.5" y2="486.0" stroke="#1c1c1c" stroke-width="1.3" stroke-linecap="butt"/>
<text x="809.0" y="472.9" class="lb">10</text>
<line x1="808.5" y1="478.4" x2="808.5" y2="513.5" stroke="#1c1c1c" stroke-width="1.3" stroke-linecap="butt"/>
<text x="861.0" y="488.7" class="lb">11</text>
<line x1="862.5" y1="493.7" x2="862.5" y2="528.8" stroke="#1c1c1c" stroke-width="1.3" stroke-linecap="butt"/>
<text x="903.0" y="543.0" class="lb">1</text>
<line x1="902.5" y1="548.6" x2="902.5" y2="582.5" stroke="#1c1c1c" stroke-width="1.3" stroke-linecap="butt"/>
<text x="334.5" y="295.0" class="lb">12</text>
<line x1="348.6" y1="299.2" x2="379.8" y2="318.0" stroke="#1c1c1c" stroke-width="1.3" stroke-linecap="butt"/>
<text x="279.5" y="324.5" class="lb">13</text>
<line x1="295.3" y1="316.5" x2="331.5" y2="316.5" stroke="#1c1c1c" stroke-width="1.3" stroke-linecap="butt"/>
<text x="276.0" y="366.6" class="lb">14</text>
<line x1="291.0" y1="358.5" x2="329.0" y2="358.5" stroke="#1c1c1c" stroke-width="1.3" stroke-linecap="butt"/>
<text x="217.0" y="285.8" class="lb">15</text>
<line x1="200.9" y1="276.5" x2="163.6" y2="276.5" stroke="#1c1c1c" stroke-width="1.3" stroke-linecap="butt"/>
<text x="48.3" y="218.5" class="lb">16</text>
<line x1="63.9" y1="211.5" x2="100.0" y2="211.5" stroke="#1c1c1c" stroke-width="1.3" stroke-linecap="butt"/>
<text x="46.3" y="255.8" class="lb">17</text>
<line x1="62.8" y1="248.5" x2="99.0" y2="248.5" stroke="#1c1c1c" stroke-width="1.3" stroke-linecap="butt"/>
<text x="63.0" y="394.8" class="lb">17</text>
<line x1="79.0" y1="388.5" x2="115.0" y2="388.5" stroke="#1c1c1c" stroke-width="1.3" stroke-linecap="butt"/>
<text x="76.2" y="426.0" class="lb">16</text>
<line x1="91.0" y1="417.5" x2="128.3" y2="417.5" stroke="#1c1c1c" stroke-width="1.3" stroke-linecap="butt"/>
<text x="193.5" y="391.3" class="lb">12</text>
<line x1="193.5" y1="396.4" x2="193.5" y2="432.5" stroke="#1c1c1c" stroke-width="1.3" stroke-linecap="butt"/>
<text x="301.0" y="522.8" class="lb">19</text>
<line x1="301.5" y1="499.8" x2="301.5" y2="465.8" stroke="#1c1c1c" stroke-width="1.3" stroke-linecap="butt"/>
<text x="339.3" y="481.8" class="lb">18</text>
<line x1="355.0" y1="475.5" x2="386.0" y2="475.5" stroke="#1c1c1c" stroke-width="1.3" stroke-linecap="butt"/>
<text x="570.0" y="498.4" class="lb">12</text>
<line x1="570.5" y1="475.4" x2="570.5" y2="437.0" stroke="#1c1c1c" stroke-width="1.3" stroke-linecap="butt"/>
<text x="496.5" y="584.5" class="lb">12</text>
<line x1="496.5" y1="561.0" x2="496.5" y2="524.7" stroke="#1c1c1c" stroke-width="1.3" stroke-linecap="butt"/>
<text x="174.7" y="613.8" class="lb">20</text>
<line x1="175.5" y1="590.3" x2="175.5" y2="553.0" stroke="#1c1c1c" stroke-width="1.3" stroke-linecap="butt"/>
<text x="131.2" y="647.8" class="lb">21</text>
<line x1="132.5" y1="625.4" x2="132.5" y2="588.0" stroke="#1c1c1c" stroke-width="1.3" stroke-linecap="butt"/>
<text x="87.8" y="690.7" class="lb">23</text>
<line x1="88.5" y1="668.2" x2="88.5" y2="633.0" stroke="#1c1c1c" stroke-width="1.3" stroke-linecap="butt"/>
<text x="292.2" y="681.8" class="lb">20</text>
<line x1="292.5" y1="658.3" x2="292.5" y2="621.0" stroke="#1c1c1c" stroke-width="1.3" stroke-linecap="butt"/>
<text x="250.5" y="714.7" class="lb">21</text>
<line x1="251.5" y1="691.2" x2="251.5" y2="656.0" stroke="#1c1c1c" stroke-width="1.3" stroke-linecap="butt"/>
<text x="197.7" y="763.6" class="lb">22</text>
<line x1="197.5" y1="740.5" x2="197.5" y2="703.3" stroke="#1c1c1c" stroke-width="1.3" stroke-linecap="butt"/>
</g>
<polygon points="147.5,160.4 299.5,284.6 48.4,420.0 8.8,275.5" fill="none" stroke="#ffee00" stroke-width="5.1" stroke-linejoin="miter"/>
</svg>
</body></html>
